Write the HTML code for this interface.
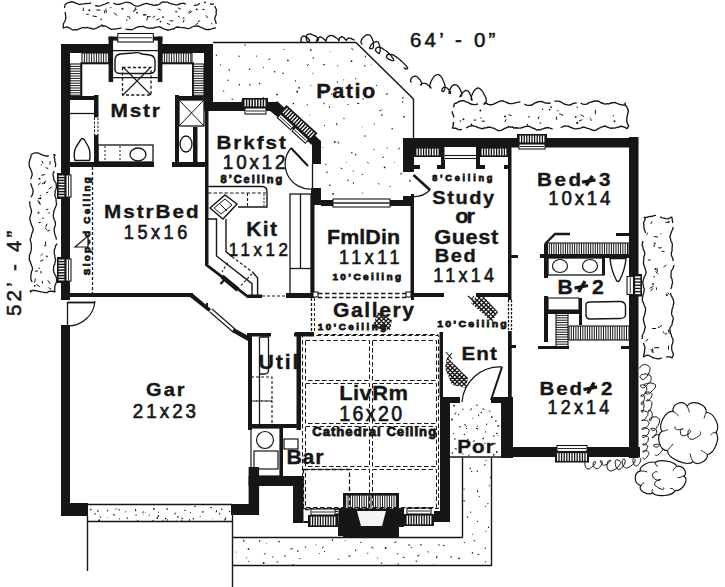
<!DOCTYPE html>
<html><head><meta charset="utf-8">
<style>
html,body{margin:0;padding:0;background:#fff;width:725px;height:587px;overflow:hidden}
svg{position:absolute;left:0;top:0;display:block}
.t{font-family:"Liberation Sans",sans-serif;font-weight:bold;fill:#161616;stroke:#161616;stroke-width:0.35}
.n{font-family:"Liberation Sans",sans-serif;font-weight:normal;fill:#161616;stroke:#161616;stroke-width:0.55}
.s{font-family:"Liberation Sans",sans-serif;font-weight:bold;fill:#161616;stroke:#161616;stroke-width:0.8}
.d{font-family:"Liberation Sans",sans-serif;font-weight:normal;fill:#161616;stroke:#161616;stroke-width:0.65}
</style></head><body>
<svg width="725" height="587" viewBox="0 0 725 587">
<path d="M65.0,4.6L67.0,3.2L69.0,2.4L71.0,2.0L73.1,1.9L75.1,2.8L77.1,3.7L79.1,4.5L81.1,4.2L83.1,4.2L85.1,3.5L87.1,3.6L89.2,3.3L91.2,3.1M95.2,5.5L97.2,6.0L99.2,6.2L101.2,5.5L103.3,4.6L105.3,4.0L107.3,2.8L109.3,2.6M113.3,3.1L115.3,4.0L117.3,4.3L119.4,4.4L121.4,3.6L123.4,3.0L125.4,2.3L127.4,2.3L129.4,2.6L131.4,3.4L133.5,5.0L135.5,5.9L137.5,6.1L139.5,5.8L141.5,4.8L143.5,4.1L145.5,3.6L147.5,3.4L149.6,4.3L151.6,4.6L153.6,5.4L155.6,5.0L157.6,5.0L159.6,4.1L161.6,2.4L163.7,1.9L165.7,2.2L167.7,2.2L169.7,3.4L171.7,3.8L173.7,4.3L175.7,4.9L177.7,4.8L179.8,3.9L181.8,3.3L183.8,3.3L185.8,4.2M189.8,5.1M193.9,5.7L195.9,5.1L197.9,4.8L199.9,3.3M203.9,2.4L205.9,2.5M210.0,3.6L212.0,4.3L214.0,3.8M214.7,6.0L215.6,8.0L216.5,10.0L216.1,12.0L216.3,14.0L215.6,16.0L214.8,18.0L215.0,20.0L215.9,22.0L216.1,24.0M216.0,27.9L214.0,28.1L212.0,28.9L210.0,29.5L207.9,29.5L205.9,29.6L203.9,28.7L201.9,27.9L199.9,26.8L197.9,25.8L195.9,26.1L193.9,26.4L191.8,27.0L189.8,28.3L187.8,28.7L185.8,28.1L183.8,27.7L181.8,27.6L179.8,27.4L177.7,27.0L175.7,27.5L173.7,29.0L171.7,29.2L169.7,29.8L167.7,30.0L165.7,29.5L163.7,28.8L161.6,27.9L159.6,26.6L157.6,27.1L155.6,27.1L153.6,28.1L151.6,28.0L149.6,28.2L147.5,28.0L145.5,27.4L143.5,26.3L141.5,26.5L139.5,26.6L137.5,27.0L135.5,27.8L133.5,29.0L131.4,29.8L129.4,29.4L127.4,29.5L125.4,28.9M121.4,27.8L119.4,28.3L117.3,28.7L115.3,29.1L113.3,29.2L111.3,29.3L109.3,28.4L107.3,27.0L105.3,26.0L103.3,25.8L101.2,25.9L99.2,26.6L97.2,27.8L95.2,28.7L93.2,29.1L91.2,28.3L89.2,28.0L87.1,27.3L85.1,27.8L83.1,27.5L81.1,28.2L79.1,28.8L77.1,29.9L75.1,29.7L73.1,30.2L71.0,29.0L69.0,27.8L67.0,26.8L63.2,28.0L63.3,26.0L63.3,24.0L64.4,22.0L65.4,20.0L65.9,18.0L65.6,16.0L65.5,14.0L65.0,12.0M64.5,8.0L64.8,6.0L65.0,4.6" stroke="#161616" stroke-width="1.3" fill="none" stroke-linejoin="round"/>
<line x1="184.15" y1="17.13" x2="182.93" y2="18.92" stroke="#161616" stroke-width="1.0"/>
<line x1="146.11" y1="14.45" x2="143.52" y2="15.08" stroke="#161616" stroke-width="1.0"/>
<line x1="136.61" y1="9.29" x2="133.05" y2="11.61" stroke="#161616" stroke-width="1.0"/>
<circle cx="137.1" cy="12.7" r="0.91" fill="#161616"/>
<line x1="202.16" y1="9.33" x2="204.64" y2="9.51" stroke="#161616" stroke-width="1.0"/>
<circle cx="101.0" cy="19.4" r="0.78" fill="#161616"/>
<line x1="157.87" y1="8.89" x2="160.9" y2="10.12" stroke="#161616" stroke-width="1.0"/>
<line x1="104.33" y1="10.56" x2="104.91" y2="13.44" stroke="#161616" stroke-width="1.0"/>
<circle cx="127.9" cy="16.5" r="0.70" fill="#161616"/>
<line x1="159.54" y1="18.49" x2="156.39" y2="20.08" stroke="#161616" stroke-width="1.0"/>
<line x1="192.23" y1="11.19" x2="188.71" y2="13.57" stroke="#161616" stroke-width="1.0"/>
<line x1="113.8" y1="12.67" x2="117.28" y2="15.52" stroke="#161616" stroke-width="1.0"/>
<circle cx="196.7" cy="9.4" r="0.96" fill="#161616"/>
<line x1="105.63" y1="8.75" x2="106.6" y2="12.6" stroke="#161616" stroke-width="1.0"/>
<line x1="86.27" y1="14.25" x2="88.77" y2="14.39" stroke="#161616" stroke-width="1.0"/>
<line x1="166.95" y1="23.4" x2="170" y2="24.56" stroke="#161616" stroke-width="1.0"/>
<line x1="177.93" y1="16.05" x2="179.74" y2="17.27" stroke="#161616" stroke-width="1.0"/>
<line x1="83.4" y1="7.67" x2="83.24" y2="11.09" stroke="#161616" stroke-width="1.0"/>
<circle cx="89.3" cy="10.3" r="1.02" fill="#161616"/>
<circle cx="211.6" cy="23.7" r="0.63" fill="#161616"/>
<line x1="205.97" y1="15.32" x2="207.61" y2="18.03" stroke="#161616" stroke-width="1.0"/>
<line x1="142.72" y1="14.74" x2="146.47" y2="14.9" stroke="#161616" stroke-width="1.0"/>
<line x1="190.42" y1="10.26" x2="188.36" y2="12.46" stroke="#161616" stroke-width="1.0"/>
<line x1="96.29" y1="9.97" x2="100.52" y2="10.18" stroke="#161616" stroke-width="1.0"/>
<line x1="184.25" y1="19.68" x2="183.06" y2="22.45" stroke="#161616" stroke-width="1.0"/>
<line x1="154.94" y1="16.08" x2="152.78" y2="17.6" stroke="#161616" stroke-width="1.0"/>
<line x1="200.14" y1="20.4" x2="197.62" y2="22.06" stroke="#161616" stroke-width="1.0"/>
<line x1="198" y1="22.84" x2="195.09" y2="25.45" stroke="#161616" stroke-width="1.0"/>
<circle cx="126.8" cy="20.0" r="0.77" fill="#161616"/>
<line x1="135.98" y1="7.19" x2="134.48" y2="10.42" stroke="#161616" stroke-width="1.0"/>
<line x1="101.66" y1="24" x2="103.44" y2="27.19" stroke="#161616" stroke-width="1.0"/>
<line x1="150.59" y1="16.6" x2="146.98" y2="16.6" stroke="#161616" stroke-width="1.0"/>
<line x1="169.68" y1="20.71" x2="173.21" y2="20.96" stroke="#161616" stroke-width="1.0"/>
<line x1="175.13" y1="11.62" x2="177.58" y2="12.01" stroke="#161616" stroke-width="1.0"/>
<circle cx="122.5" cy="8.8" r="1.05" fill="#161616"/>
<line x1="147.76" y1="16.14" x2="146.81" y2="20.53" stroke="#161616" stroke-width="1.0"/>
<circle cx="160.5" cy="21.6" r="0.90" fill="#161616"/>
<line x1="178.09" y1="7.81" x2="180.88" y2="9.34" stroke="#161616" stroke-width="1.0"/>
<line x1="92.52" y1="15.92" x2="96.81" y2="16.72" stroke="#161616" stroke-width="1.0"/>
<line x1="129" y1="16.48" x2="130.11" y2="18.96" stroke="#161616" stroke-width="1.0"/>
<circle cx="163.0" cy="17.1" r="0.96" fill="#161616"/>
<circle cx="110.9" cy="7.3" r="0.62" fill="#161616"/>
<path d="M31.0,154.8L33.0,153.5L35.0,152.8L37.0,152.9L39.0,153.2L41.0,154.4L43.0,155.2L45.0,155.8L47.0,156.0L49.0,155.8M53.0,154.7L55.1,155.0L54.1,157.0L54.8,159.0L54.7,161.0L55.5,163.1L55.7,165.1L55.1,167.1M54.4,171.1L53.1,173.1L53.1,175.1L53.6,177.2L53.6,179.2L54.6,181.2L56.1,183.2L56.3,185.2L56.5,187.2L55.9,189.2L55.1,191.3L55.1,193.3L54.7,195.3L55.6,197.3L56.1,199.3L56.1,201.3L56.6,203.4L56.2,205.4L55.3,207.4L54.5,209.4L53.7,211.4L53.6,213.4L53.2,215.4L53.5,217.5L54.2,219.5L55.1,221.5L55.5,223.5L55.3,225.5L54.5,227.5L54.1,229.5L54.4,231.6L54.6,233.6L55.3,235.6L56.0,237.6L56.5,239.6M57.1,243.6L55.7,245.7L55.2,247.7L54.4,249.7L54.3,251.7L54.3,253.7L54.8,255.7L54.9,257.8L55.7,259.8L55.1,261.8L54.9,263.8L53.7,265.8L53.7,267.8L53.4,269.8L53.8,271.9L54.4,273.9L55.8,275.9L56.3,277.9L56.8,279.9L56.5,281.9L55.8,283.9L54.8,286.0L54.8,288.0L54.5,290.0L55.0,291.8L53.0,291.5L51.0,291.2L49.0,291.4L47.0,292.6L45.0,292.7L43.0,292.1L41.0,291.9L39.0,291.3L37.0,290.8L35.0,290.5L33.0,290.3L30.3,292.0L30.9,290.0M32.8,286.0M32.1,281.9L31.1,279.9L30.9,277.9L30.8,275.9L31.2,273.9L31.4,271.9L32.4,269.8L32.5,267.8L31.6,265.8L30.9,263.8L30.4,261.8L29.2,259.8L29.4,257.8L29.3,255.7L30.1,253.7L30.9,251.7L31.2,249.7L31.5,247.7L31.3,245.7L31.2,243.6L30.7,241.6L30.1,239.6L31.0,237.6L31.3,235.6L31.9,233.6L32.7,231.6L33.3,229.5L32.6,227.5L31.8,225.5L31.1,223.5L30.4,221.5L29.9,219.5L29.8,217.5L30.5,215.4L31.2,213.4L31.5,211.4L31.2,209.4L30.5,207.4L29.9,205.4L29.8,203.4L29.6,201.3M31.0,197.3L32.1,195.3L32.8,193.3L33.1,191.3L32.9,189.2L31.9,187.2L31.4,185.2L30.6,183.2M30.8,179.2L31.3,177.2L32.2,175.1L32.0,173.1L31.4,171.1L30.7,169.1L29.5,167.1L29.2,165.1L29.2,163.1L29.4,161.0L30.1,159.0L31.0,157.0L31.0,154.8" stroke="#161616" stroke-width="1.3" fill="none" stroke-linejoin="round"/>
<line x1="47.77" y1="280.28" x2="50.33" y2="283.75" stroke="#161616" stroke-width="1.0"/>
<circle cx="44.8" cy="245.7" r="0.71" fill="#161616"/>
<line x1="42.68" y1="253.76" x2="40.62" y2="255.73" stroke="#161616" stroke-width="1.0"/>
<line x1="40.87" y1="270.97" x2="40.99" y2="273.45" stroke="#161616" stroke-width="1.0"/>
<line x1="45.24" y1="228.21" x2="47.46" y2="230.17" stroke="#161616" stroke-width="1.0"/>
<line x1="45.02" y1="174.62" x2="41.2" y2="175.19" stroke="#161616" stroke-width="1.0"/>
<circle cx="38.5" cy="212.8" r="0.97" fill="#161616"/>
<line x1="45.37" y1="180.64" x2="44.35" y2="183.93" stroke="#161616" stroke-width="1.0"/>
<line x1="40.81" y1="198.59" x2="37.99" y2="198.61" stroke="#161616" stroke-width="1.0"/>
<circle cx="43.0" cy="218.2" r="0.80" fill="#161616"/>
<line x1="37.69" y1="200.23" x2="39.66" y2="204.1" stroke="#161616" stroke-width="1.0"/>
<line x1="39.34" y1="201.54" x2="40.39" y2="204.66" stroke="#161616" stroke-width="1.0"/>
<line x1="45.66" y1="167.65" x2="48.15" y2="168.47" stroke="#161616" stroke-width="1.0"/>
<line x1="48.58" y1="287.63" x2="51.23" y2="289.22" stroke="#161616" stroke-width="1.0"/>
<circle cx="39.1" cy="268.2" r="0.70" fill="#161616"/>
<line x1="45.49" y1="241.47" x2="45.78" y2="245.86" stroke="#161616" stroke-width="1.0"/>
<line x1="42.25" y1="280.75" x2="42.57" y2="283.63" stroke="#161616" stroke-width="1.0"/>
<circle cx="46.9" cy="256.4" r="0.86" fill="#161616"/>
<line x1="47.08" y1="223.7" x2="45.73" y2="227.24" stroke="#161616" stroke-width="1.0"/>
<circle cx="40.4" cy="198.2" r="1.05" fill="#161616"/>
<line x1="48.22" y1="209.13" x2="45.95" y2="209.84" stroke="#161616" stroke-width="1.0"/>
<circle cx="49.1" cy="213.1" r="0.73" fill="#161616"/>
<circle cx="41.4" cy="164.8" r="0.66" fill="#161616"/>
<circle cx="39.5" cy="178.8" r="1.02" fill="#161616"/>
<line x1="40.83" y1="222.23" x2="38.52" y2="222.72" stroke="#161616" stroke-width="1.0"/>
<line x1="38.11" y1="270.71" x2="34.86" y2="271.41" stroke="#161616" stroke-width="1.0"/>
<line x1="40.61" y1="182.71" x2="38.11" y2="184.98" stroke="#161616" stroke-width="1.0"/>
<line x1="48.25" y1="192.15" x2="46.07" y2="192.81" stroke="#161616" stroke-width="1.0"/>
<line x1="45.11" y1="182.28" x2="41.95" y2="184.03" stroke="#161616" stroke-width="1.0"/>
<line x1="41.85" y1="160.82" x2="43.13" y2="163.53" stroke="#161616" stroke-width="1.0"/>
<line x1="35.4" y1="278.56" x2="34.61" y2="282.59" stroke="#161616" stroke-width="1.0"/>
<line x1="50.13" y1="230.01" x2="47.53" y2="231.36" stroke="#161616" stroke-width="1.0"/>
<line x1="50.21" y1="161.19" x2="49.9" y2="164.73" stroke="#161616" stroke-width="1.0"/>
<line x1="51.83" y1="186.8" x2="48.7" y2="189.08" stroke="#161616" stroke-width="1.0"/>
<line x1="43.44" y1="259.79" x2="40.11" y2="261.24" stroke="#161616" stroke-width="1.0"/>
<circle cx="40.5" cy="195.6" r="0.66" fill="#161616"/>
<circle cx="34.8" cy="285.8" r="0.90" fill="#161616"/>
<line x1="36.41" y1="284.57" x2="39.87" y2="286.72" stroke="#161616" stroke-width="1.0"/>
<path d="M454.0,103.6L456.0,103.3L458.0,102.0L460.0,101.2L462.0,100.7L464.1,100.8L466.1,101.8L468.1,102.4L470.1,103.8L472.1,104.3L474.1,104.6L476.1,104.4L478.1,104.0M484.2,102.7L486.2,103.2L488.2,104.4L490.2,104.7L492.2,104.6L494.2,103.9L496.2,102.8L498.3,101.9L500.3,101.1L502.3,100.6L504.3,101.6L506.3,102.2L508.3,103.3L510.3,103.6L512.3,103.6L514.3,103.1L516.4,102.6L518.4,102.1L520.4,102.0M524.4,104.1L526.4,105.1L528.4,105.4L530.4,105.2L532.5,104.7L534.5,103.1L536.5,102.5L538.5,101.7L540.5,101.4L542.5,101.8L544.5,102.7L546.5,103.0L548.5,103.2L550.6,103.0M554.6,101.2L556.6,101.1L558.6,101.1L560.6,101.9L562.6,103.0L564.6,104.2L566.7,104.6L568.7,105.1L570.7,104.8L572.7,103.6L574.7,103.1L576.7,103.0M580.7,103.0L582.7,104.1L584.8,104.4L586.8,104.1L588.8,102.9L590.8,102.1L592.8,101.5L594.8,101.0L596.8,101.0L598.8,101.3L600.8,102.8L602.9,103.3L604.9,104.1L606.9,103.6L608.9,103.9L610.9,103.0L612.9,102.7L614.9,102.4L616.9,103.3L619.0,104.1L621.0,104.9L623.0,105.0L625.0,105.1L625.1,103.0L625.4,105.1L626.9,107.2L627.8,109.2L628.4,111.3L627.8,113.4L627.4,115.5L626.8,117.6L626.9,119.7L626.8,121.8L627.6,123.8L628.7,125.9L627.0,128.6L625.0,127.4L623.0,126.7L621.0,126.2L619.0,127.0L616.9,127.4L614.9,128.1L612.9,128.0L610.9,128.4L608.9,127.6L606.9,126.8L604.9,126.0L602.9,126.6L600.8,127.3L598.8,128.3L596.8,129.6L594.8,130.5L592.8,130.2L590.8,129.3L588.8,128.6L586.8,128.1L584.8,127.3L582.7,127.2L580.7,128.1L578.7,128.4L576.7,128.9L574.7,128.9L572.7,128.2L570.7,127.4L568.7,126.3L566.7,126.1L564.6,125.9L562.6,126.9L560.6,127.4M556.6,129.6M552.6,129.1L550.6,128.3L548.5,127.7L546.5,127.8L544.5,128.3L542.5,128.9L540.5,129.9L538.5,129.6L536.5,130.0L534.5,128.6L532.5,128.0L530.4,126.9L528.4,126.2L526.4,126.4L524.4,126.9L522.4,127.5L520.4,128.1L518.4,128.1L516.4,127.8L514.3,128.0L512.3,127.0L510.3,127.1L508.3,126.8L506.3,127.9L504.3,128.5L502.3,129.8L500.3,130.6L498.3,130.6L496.2,129.7L494.2,128.2L492.2,127.9L490.2,127.1L488.2,127.3L486.2,127.8L484.2,128.0L482.2,128.8L480.2,128.2L478.1,127.6L476.1,126.6L474.1,126.1L472.1,125.5L470.1,126.2L468.1,126.9L466.1,128.0M462.0,129.3L460.0,129.9L458.0,129.3L456.0,128.3L452.5,128.0L453.2,125.9L453.2,123.8L453.7,121.8M453.7,117.6L453.6,115.5L452.4,113.4L452.3,111.3M453.3,107.2L454.2,105.1L454.0,103.6" stroke="#161616" stroke-width="1.4" fill="none" stroke-linejoin="round"/>
<circle cx="474.9" cy="120.1" r="0.91" fill="#161616"/>
<circle cx="614.5" cy="121.2" r="0.98" fill="#161616"/>
<line x1="539.13" y1="116.48" x2="538.06" y2="119.22" stroke="#161616" stroke-width="1.0"/>
<circle cx="460.4" cy="121.0" r="0.81" fill="#161616"/>
<circle cx="505.0" cy="116.6" r="1.02" fill="#161616"/>
<line x1="556.22" y1="116.61" x2="556.84" y2="119.89" stroke="#161616" stroke-width="1.0"/>
<line x1="582.3" y1="119.73" x2="579.11" y2="120.87" stroke="#161616" stroke-width="1.0"/>
<circle cx="549.7" cy="109.6" r="0.82" fill="#161616"/>
<circle cx="540.3" cy="123.1" r="0.77" fill="#161616"/>
<line x1="580.6" y1="114.72" x2="584.05" y2="116.61" stroke="#161616" stroke-width="1.0"/>
<circle cx="529.0" cy="116.8" r="0.80" fill="#161616"/>
<circle cx="591.1" cy="120.0" r="0.81" fill="#161616"/>
<circle cx="463.5" cy="119.3" r="0.96" fill="#161616"/>
<line x1="559.2" y1="113.64" x2="563.22" y2="115.41" stroke="#161616" stroke-width="1.0"/>
<circle cx="471.4" cy="124.4" r="0.82" fill="#161616"/>
<circle cx="613.3" cy="115.7" r="0.63" fill="#161616"/>
<circle cx="590.2" cy="118.1" r="0.66" fill="#161616"/>
<line x1="527.15" y1="123.77" x2="527.38" y2="125.85" stroke="#161616" stroke-width="1.0"/>
<line x1="595.43" y1="109.84" x2="595.44" y2="114.25" stroke="#161616" stroke-width="1.0"/>
<line x1="481.66" y1="121.08" x2="485.07" y2="121.26" stroke="#161616" stroke-width="1.0"/>
<line x1="506.24" y1="119.21" x2="504.62" y2="122.02" stroke="#161616" stroke-width="1.0"/>
<circle cx="557.8" cy="110.7" r="0.66" fill="#161616"/>
<circle cx="577.3" cy="107.2" r="0.69" fill="#161616"/>
<circle cx="551.1" cy="107.1" r="0.91" fill="#161616"/>
<circle cx="577.2" cy="122.9" r="1.10" fill="#161616"/>
<circle cx="480.8" cy="117.9" r="0.69" fill="#161616"/>
<circle cx="480.4" cy="110.6" r="0.99" fill="#161616"/>
<circle cx="575.7" cy="116.9" r="0.96" fill="#161616"/>
<circle cx="542.6" cy="109.2" r="0.72" fill="#161616"/>
<line x1="508.57" y1="114.57" x2="511.51" y2="115.6" stroke="#161616" stroke-width="1.0"/>
<path d="M644.0,217.0L646.0,217.6L648.0,216.9L650.0,216.5L652.0,216.3L654.0,215.7L656.0,215.4M660.0,216.7L662.0,217.9L664.0,218.2L666.0,218.6L668.0,218.9L670.0,217.9L671.7,217.0L672.2,219.0L672.4,221.0L672.8,223.0M673.0,227.0L672.9,229.0L671.8,231.0L671.1,233.0L670.4,235.0L669.8,237.0L670.6,239.0L670.9,241.0L672.1,243.0L672.4,245.0L672.2,247.0L672.0,249.0L672.0,251.0L671.3,253.0L671.3,255.0L672.1,257.0L673.0,259.0L673.1,261.0M674.1,265.0L673.4,267.0L672.7,269.0L671.3,271.0L671.0,273.0L671.2,275.0L670.9,277.0L672.0,279.0L672.3,281.0L672.6,283.0L671.8,285.0L671.7,287.0L670.8,289.0M670.5,293.0L671.0,295.0L672.0,297.0L673.0,299.0L673.6,301.0L673.8,303.0L673.3,305.0L673.0,307.0L672.1,309.0L671.9,311.0L671.5,313.0L671.8,315.0L673.0,317.0L673.3,319.0L672.7,321.0L672.3,323.0L671.9,325.0L670.5,327.0L669.8,329.0L670.1,331.0L670.6,333.0L671.3,335.0L671.8,337.0L672.9,339.0L673.0,341.0L672.8,343.0L671.9,345.0L671.7,347.0L671.8,349.0L672.0,351.0L673.0,353.0L673.5,355.0L672.0,357.9L670.0,356.9L668.0,356.9L666.0,356.9M662.0,357.9L660.0,358.5L658.0,358.9L656.0,358.3L654.0,358.1L652.0,357.2L650.0,356.0L648.0,355.2L646.0,355.5L643.7,357.0L643.7,355.0L644.3,353.0L644.6,351.0L644.8,349.0L645.0,347.0L644.1,345.0L643.4,343.0M642.2,339.0L642.3,337.0L642.4,335.0L643.7,333.0L644.3,331.0L644.7,329.0L645.4,327.0L644.7,325.0L644.1,323.0L643.6,321.0L643.4,319.0L643.7,317.0L644.7,315.0L644.9,313.0L645.5,311.0L645.6,309.0L645.1,307.0L644.1,305.0L643.5,303.0L642.4,301.0L642.3,299.0L642.6,297.0L643.0,295.0L643.7,293.0L644.0,291.0L644.4,289.0L643.5,287.0L643.4,285.0L642.7,283.0L643.1,281.0L643.6,279.0L644.2,277.0L645.5,275.0L645.9,273.0L646.0,271.0L645.2,269.0L644.7,267.0L643.8,265.0L643.4,263.0L643.6,261.0L643.9,259.0L643.7,257.0L644.6,255.0L644.8,253.0L644.2,251.0L643.1,249.0L643.0,247.0L642.1,245.0L642.5,243.0L643.0,241.0M644.8,237.0M645.6,233.0L644.9,231.0L644.3,229.0L643.9,227.0L643.9,225.0L643.5,223.0L644.4,221.0L645.2,219.0L644.0,217.0" stroke="#161616" stroke-width="1.3" fill="none" stroke-linejoin="round"/>
<line x1="650.92" y1="349.13" x2="652.85" y2="352.71" stroke="#161616" stroke-width="1.0"/>
<line x1="659.28" y1="347.62" x2="656.93" y2="348.03" stroke="#161616" stroke-width="1.0"/>
<line x1="667.75" y1="292.58" x2="669.28" y2="294.69" stroke="#161616" stroke-width="1.0"/>
<line x1="653.53" y1="242.78" x2="655.95" y2="243.73" stroke="#161616" stroke-width="1.0"/>
<circle cx="660.9" cy="247.4" r="0.73" fill="#161616"/>
<line x1="652.15" y1="221.37" x2="650.82" y2="223.81" stroke="#161616" stroke-width="1.0"/>
<circle cx="666.8" cy="295.0" r="1.08" fill="#161616"/>
<line x1="652.05" y1="328.48" x2="656.17" y2="328.52" stroke="#161616" stroke-width="1.0"/>
<line x1="656.25" y1="287.3" x2="656.65" y2="289.87" stroke="#161616" stroke-width="1.0"/>
<line x1="648.09" y1="338.65" x2="645.87" y2="341.49" stroke="#161616" stroke-width="1.0"/>
<line x1="668.56" y1="345.45" x2="668.5" y2="349.73" stroke="#161616" stroke-width="1.0"/>
<line x1="653.74" y1="236.64" x2="658.16" y2="237.04" stroke="#161616" stroke-width="1.0"/>
<circle cx="654.1" cy="276.8" r="0.76" fill="#161616"/>
<circle cx="658.8" cy="327.3" r="0.77" fill="#161616"/>
<line x1="652.42" y1="348.44" x2="653.18" y2="352.72" stroke="#161616" stroke-width="1.0"/>
<line x1="655.51" y1="271.52" x2="658.28" y2="274.07" stroke="#161616" stroke-width="1.0"/>
<line x1="653.31" y1="288.26" x2="650.45" y2="290.84" stroke="#161616" stroke-width="1.0"/>
<line x1="657.59" y1="347.28" x2="653.87" y2="348.01" stroke="#161616" stroke-width="1.0"/>
<line x1="657" y1="268.23" x2="657.32" y2="272.08" stroke="#161616" stroke-width="1.0"/>
<circle cx="655.5" cy="269.0" r="0.97" fill="#161616"/>
<line x1="653.38" y1="286.2" x2="649.61" y2="288.4" stroke="#161616" stroke-width="1.0"/>
<line x1="661.6" y1="251.21" x2="664.58" y2="251.72" stroke="#161616" stroke-width="1.0"/>
<line x1="667.35" y1="333.28" x2="665.11" y2="334.26" stroke="#161616" stroke-width="1.0"/>
<line x1="647.87" y1="259.77" x2="650.66" y2="260.12" stroke="#161616" stroke-width="1.0"/>
<line x1="658.18" y1="247.59" x2="660.27" y2="248.32" stroke="#161616" stroke-width="1.0"/>
<circle cx="668.9" cy="221.6" r="0.80" fill="#161616"/>
<line x1="666.37" y1="264.98" x2="663.47" y2="267.02" stroke="#161616" stroke-width="1.0"/>
<line x1="665.28" y1="222.19" x2="669.4" y2="222.46" stroke="#161616" stroke-width="1.0"/>
<line x1="647.56" y1="232.68" x2="646.8" y2="234.57" stroke="#161616" stroke-width="1.0"/>
<circle cx="661.1" cy="233.8" r="0.62" fill="#161616"/>
<line x1="662.99" y1="331.39" x2="664.38" y2="333.61" stroke="#161616" stroke-width="1.0"/>
<line x1="668.17" y1="329.43" x2="669.28" y2="333.48" stroke="#161616" stroke-width="1.0"/>
<line x1="661.9" y1="325.29" x2="659.38" y2="327.33" stroke="#161616" stroke-width="1.0"/>
<circle cx="653.0" cy="284.0" r="0.94" fill="#161616"/>
<line x1="654.37" y1="244.2" x2="654.14" y2="246.98" stroke="#161616" stroke-width="1.0"/>
<line x1="213" y1="42.5" x2="356" y2="42.5" stroke="#161616" stroke-width="1.4"/>
<line x1="356" y1="42.5" x2="413.5" y2="99" stroke="#161616" stroke-width="1.5"/>
<line x1="413.5" y1="99" x2="413.5" y2="139" stroke="#161616" stroke-width="1.4"/>
<line x1="216.3" y1="54.61" x2="216.39" y2="56.06" stroke="#161616" stroke-width="1.0"/>
<circle cx="239.0" cy="56.2" r="0.70" fill="#161616"/>
<circle cx="245.1" cy="45.0" r="0.74" fill="#161616"/>
<circle cx="256.7" cy="56.1" r="0.57" fill="#161616"/>
<line x1="270.29" y1="58.89" x2="268.5" y2="59.63" stroke="#161616" stroke-width="1.0"/>
<circle cx="284.1" cy="49.6" r="0.51" fill="#161616"/>
<circle cx="310.8" cy="50.1" r="0.86" fill="#161616"/>
<circle cx="313.2" cy="57.9" r="0.73" fill="#161616"/>
<circle cx="330.2" cy="51.7" r="0.47" fill="#161616"/>
<line x1="351.39" y1="48.27" x2="353.26" y2="49.71" stroke="#161616" stroke-width="1.0"/>
<line x1="365.7" y1="55.51" x2="365.18" y2="57.52" stroke="#161616" stroke-width="1.0"/>
<line x1="220.28" y1="64.3" x2="220.71" y2="65.45" stroke="#161616" stroke-width="1.0"/>
<line x1="229.22" y1="68.93" x2="229.25" y2="70.72" stroke="#161616" stroke-width="1.0"/>
<circle cx="249.5" cy="69.3" r="0.75" fill="#161616"/>
<circle cx="263.5" cy="67.6" r="0.54" fill="#161616"/>
<circle cx="274.6" cy="71.8" r="0.75" fill="#161616"/>
<circle cx="287.9" cy="60.4" r="0.86" fill="#161616"/>
<line x1="308.37" y1="64.15" x2="307.18" y2="66.09" stroke="#161616" stroke-width="1.0"/>
<line x1="324.82" y1="64.59" x2="322.93" y2="64.82" stroke="#161616" stroke-width="1.0"/>
<circle cx="337.7" cy="65.8" r="0.57" fill="#161616"/>
<circle cx="351.5" cy="61.2" r="0.85" fill="#161616"/>
<line x1="364.03" y1="65.65" x2="365.52" y2="65.9" stroke="#161616" stroke-width="1.0"/>
<circle cx="371.2" cy="64.8" r="0.48" fill="#161616"/>
<line x1="227.35" y1="80.17" x2="228.8" y2="80.3" stroke="#161616" stroke-width="1.0"/>
<line x1="239.6" y1="83.92" x2="239.06" y2="85.55" stroke="#161616" stroke-width="1.0"/>
<circle cx="249.9" cy="84.7" r="0.72" fill="#161616"/>
<circle cx="259.6" cy="83.5" r="0.79" fill="#161616"/>
<circle cx="283.0" cy="73.2" r="0.77" fill="#161616"/>
<circle cx="295.5" cy="81.0" r="0.65" fill="#161616"/>
<circle cx="310.9" cy="85.5" r="0.50" fill="#161616"/>
<circle cx="312.8" cy="73.2" r="0.52" fill="#161616"/>
<circle cx="337.5" cy="82.0" r="0.72" fill="#161616"/>
<circle cx="343.8" cy="79.7" r="0.53" fill="#161616"/>
<line x1="355.82" y1="78.11" x2="355.62" y2="79.35" stroke="#161616" stroke-width="1.0"/>
<line x1="377.08" y1="85.02" x2="376.12" y2="85.76" stroke="#161616" stroke-width="1.0"/>
<circle cx="223.7" cy="91.1" r="0.64" fill="#161616"/>
<circle cx="232.2" cy="99.3" r="0.70" fill="#161616"/>
<circle cx="249.5" cy="100.0" r="0.75" fill="#161616"/>
<line x1="262.85" y1="97.01" x2="264" y2="98.69" stroke="#161616" stroke-width="1.0"/>
<circle cx="277.0" cy="94.6" r="0.86" fill="#161616"/>
<circle cx="297.2" cy="91.7" r="0.95" fill="#161616"/>
<circle cx="299.1" cy="87.8" r="0.86" fill="#161616"/>
<line x1="322.06" y1="93.02" x2="324.03" y2="93.14" stroke="#161616" stroke-width="1.0"/>
<circle cx="331.6" cy="94.0" r="0.65" fill="#161616"/>
<circle cx="342.5" cy="87.5" r="0.57" fill="#161616"/>
<line x1="363.06" y1="98.16" x2="363.27" y2="99.63" stroke="#161616" stroke-width="1.0"/>
<line x1="372.55" y1="93.56" x2="371.25" y2="93.71" stroke="#161616" stroke-width="1.0"/>
<line x1="387.79" y1="93.63" x2="385.78" y2="94.35" stroke="#161616" stroke-width="1.0"/>
<line x1="403.76" y1="97.34" x2="401.92" y2="98.21" stroke="#161616" stroke-width="1.0"/>
<line x1="226.77" y1="106.08" x2="224.76" y2="107.31" stroke="#161616" stroke-width="1.0"/>
<circle cx="241.7" cy="100.8" r="0.61" fill="#161616"/>
<circle cx="247.3" cy="102.7" r="0.49" fill="#161616"/>
<circle cx="280.0" cy="107.1" r="0.93" fill="#161616"/>
<circle cx="293.4" cy="103.6" r="0.77" fill="#161616"/>
<line x1="307.05" y1="104.33" x2="307.84" y2="105.61" stroke="#161616" stroke-width="1.0"/>
<line x1="323.25" y1="102.84" x2="324.8" y2="103.96" stroke="#161616" stroke-width="1.0"/>
<line x1="329.27" y1="105.98" x2="329.45" y2="107.69" stroke="#161616" stroke-width="1.0"/>
<circle cx="347.9" cy="104.6" r="0.64" fill="#161616"/>
<line x1="357.05" y1="103.33" x2="359.21" y2="103.56" stroke="#161616" stroke-width="1.0"/>
<circle cx="380.2" cy="110.5" r="0.70" fill="#161616"/>
<line x1="381.65" y1="109.17" x2="382.53" y2="110" stroke="#161616" stroke-width="1.0"/>
<circle cx="402.6" cy="102.0" r="0.68" fill="#161616"/>
<circle cx="309.9" cy="114.9" r="0.49" fill="#161616"/>
<line x1="324.01" y1="125.03" x2="325.06" y2="125.74" stroke="#161616" stroke-width="1.0"/>
<line x1="336.76" y1="123.07" x2="336.95" y2="125.22" stroke="#161616" stroke-width="1.0"/>
<circle cx="344.0" cy="118.4" r="0.60" fill="#161616"/>
<circle cx="362.0" cy="127.0" r="0.48" fill="#161616"/>
<circle cx="374.3" cy="124.1" r="0.58" fill="#161616"/>
<circle cx="381.9" cy="115.1" r="0.79" fill="#161616"/>
<circle cx="404.1" cy="116.8" r="0.92" fill="#161616"/>
<line x1="365.83" y1="135.98" x2="364.17" y2="136.14" stroke="#161616" stroke-width="1.0"/>
<circle cx="392.2" cy="128.7" r="0.76" fill="#161616"/>
<circle cx="322.8" cy="147.5" r="0.46" fill="#161616"/>
<circle cx="334.8" cy="141.9" r="0.95" fill="#161616"/>
<line x1="337.8" y1="141.61" x2="338.86" y2="143.61" stroke="#161616" stroke-width="1.0"/>
<circle cx="351.8" cy="152.8" r="0.75" fill="#161616"/>
<line x1="374.46" y1="149.14" x2="373.7" y2="150.14" stroke="#161616" stroke-width="1.0"/>
<circle cx="387.1" cy="147.9" r="0.55" fill="#161616"/>
<line x1="400.05" y1="147.78" x2="398.26" y2="149.31" stroke="#161616" stroke-width="1.0"/>
<line x1="409.61" y1="149.32" x2="411.22" y2="151.02" stroke="#161616" stroke-width="1.0"/>
<line x1="326.17" y1="163.76" x2="325.54" y2="164.98" stroke="#161616" stroke-width="1.0"/>
<circle cx="346.4" cy="162.2" r="0.47" fill="#161616"/>
<line x1="355.78" y1="153.77" x2="355.74" y2="155.59" stroke="#161616" stroke-width="1.0"/>
<line x1="367.49" y1="162.16" x2="368.43" y2="163.52" stroke="#161616" stroke-width="1.0"/>
<circle cx="383.1" cy="157.3" r="0.72" fill="#161616"/>
<circle cx="394.5" cy="162.3" r="0.49" fill="#161616"/>
<line x1="327.76" y1="172.06" x2="325.97" y2="172.33" stroke="#161616" stroke-width="1.0"/>
<line x1="340.69" y1="167.97" x2="342.28" y2="168.92" stroke="#161616" stroke-width="1.0"/>
<circle cx="353.3" cy="171.1" r="0.55" fill="#161616"/>
<line x1="362.52" y1="173.83" x2="361.88" y2="175.12" stroke="#161616" stroke-width="1.0"/>
<circle cx="384.6" cy="167.4" r="0.86" fill="#161616"/>
<line x1="401" y1="172.83" x2="401" y2="174.66" stroke="#161616" stroke-width="1.0"/>
<line x1="409.85" y1="179.91" x2="410.02" y2="181.97" stroke="#161616" stroke-width="1.0"/>
<line x1="330.58" y1="184.74" x2="328.95" y2="185.78" stroke="#161616" stroke-width="1.0"/>
<circle cx="347.9" cy="180.3" r="0.77" fill="#161616"/>
<line x1="353.23" y1="182.31" x2="353.54" y2="183.8" stroke="#161616" stroke-width="1.0"/>
<circle cx="362.6" cy="192.9" r="0.51" fill="#161616"/>
<line x1="378.25" y1="183.43" x2="379.54" y2="184.25" stroke="#161616" stroke-width="1.0"/>
<circle cx="390.0" cy="186.3" r="0.62" fill="#161616"/>
<circle cx="333.1" cy="193.9" r="0.87" fill="#161616"/>
<path d="M302.1,41.9 L301.5,41.8 L301.1,41.6 L300.8,40.3 L301.2,39.3 L301.2,38.1 L301.9,37.2 L302.7,36.2 L303.9,36.0 L305.3,36.4 L306.3,36.8 L307.6,37.9 L308.2,38.7 L309.3,39.6 L309.4,40.3 L309.7,40.7 L309.5,41.2 L308.9,41.5 L308.6,41.7 L308.9,41.9 L307.6,41.4 L306.9,40.6 L306.4,39.0 L306.0,37.7 L306.6,36.0 L307.2,34.6 L308.8,34.1 L310.5,33.9 L312.1,34.7 L314.0,35.5 L315.7,36.1 L316.9,37.3 L317.8,37.9 L318.4,38.9 L318.5,39.7 L317.9,40.6 L317.1,41.1 L316.2,41.5 L316.3,41.6 L316.5,41.2 L316.7,41.2 L316.8,40.1 L317.3,39.4 L317.7,38.4 L318.3,37.9 L319.1,37.3 L320.0,36.9 L321.2,37.1 L321.8,37.6 L322.9,38.3 L323.8,38.9 L324.4,39.6 L324.9,40.1 L325.4,40.3 L325.6,40.9 L326.1,41.2 L326.3,41.1 L326.0,41.0 L326.0,40.9 L326.1,40.5 L326.1,39.8 L326.7,38.8 L327.0,37.6 L328.3,36.4 L329.2,35.9 L330.7,35.5 L332.4,35.6 L333.6,36.1 L335.1,37.1 L336.4,38.0 L337.3,38.5 L338.2,39.2 L338.6,40.0 L338.7,40.1 L338.6,40.5 L338.6,40.6 L338.6,40.8 L338.9,40.4 L339.1,40.0 L339.2,39.6 L339.5,38.6 L339.7,37.9 L340.3,37.2 L341.0,37.0 L341.8,36.7 L342.6,36.8 L343.1,37.4 L343.9,37.7 L344.5,38.5 L345.0,39.0 L345.4,39.5 L346.0,39.6 L346.3,40.1 L346.2,40.1 L346.5,40.5 L346.4,40.3 L346.5,40.1 L346.3,40.2 L346.7,39.7 L346.9,39.4 L347.5,39.0 L348.0,38.5 L348.4,38.1 L349.5,38.0 L350.2,38.4 L350.9,38.4 L351.7,38.9 L352.5,39.2 L352.8,39.4 L353.4,39.5 L353.9,39.8 L354.1,39.9 L354.1,39.9 L354.0,40.1" stroke="#161616" stroke-width="1.35" fill="none" stroke-linejoin="round" stroke-linecap="round"/>
<path d="M362.1,44.0 L361.4,43.4 L360.9,41.8 L361.4,40.1 L362.1,38.5 L364.1,36.7 L366.0,35.2 L367.7,34.6 L369.9,35.2 L371.1,36.6 L372.2,38.7 L373.1,41.2 L373.5,43.9 L373.5,45.8 L373.4,47.2 L372.7,48.3 L371.9,48.5 L370.7,48.6 L369.7,48.6 L369.7,48.5 L369.5,47.9 L370.1,46.9 L370.7,45.7 L371.9,44.0 L373.4,42.9 L375.2,41.8 L376.6,41.5 L378.0,41.9 L378.8,43.1 L379.3,44.8 L379.9,46.6 L380.2,48.5 L380.2,50.2 L380.2,51.2 L379.8,52.1 L379.3,53.2 L379.1,53.7 L378.8,53.5 L378.7,53.4 L377.1,52.2 L376.0,51.2 L375.4,49.7 L376.0,48.4 L377.3,47.5 L379.1,47.2 L381.5,47.8 L383.8,49.5 L386.7,51.3 L389.1,53.5 L390.9,55.7 L392.8,58.0 L393.5,59.2 L393.7,60.4 L393.0,60.7 L391.9,60.6 L390.2,59.9 L388.7,59.2 L388.6,59.4 L387.3,58.1 L386.4,57.3 L386.7,55.7 L387.1,54.9 L388.7,54.1 L391.0,54.4 L393.3,55.0 L396.1,56.9 L398.8,58.7 L401.8,61.4 L404.0,63.6 L406.0,65.6 L407.1,67.0 L407.7,68.0 L407.4,68.7 L406.6,69.0 L405.4,68.8 L404.1,67.9" stroke="#161616" stroke-width="1.3" fill="none" stroke-linejoin="round" stroke-linecap="round"/>
<path d="M411.2,82.0 L410.6,81.8 L410.6,80.8 L410.7,79.7 L411.2,78.5 L412.4,77.2 L413.7,76.5 L414.9,76.1 L416.1,76.3 L417.9,77.3 L418.8,78.8 L420.1,79.8 L420.8,81.1 L421.4,82.1 L421.8,83.2 L421.8,83.8 L421.4,84.3 L421.3,85.0 L420.7,84.8 L420.6,84.8 L420.5,84.9 L420.7,84.6 L421.0,84.2 L421.7,83.7 L422.1,83.4 L423.2,83.3 L424.1,83.3 L425.2,83.4 L426.4,83.8 L427.6,84.7 L428.3,85.3 L429.3,85.8 L429.7,86.6 L430.5,87.1 L430.6,87.5 L430.7,87.9 L431.0,87.9 L430.5,87.9 L430.8,88.0 L429.9,87.4 L429.8,86.1 L430.2,83.7 L431.1,81.2 L432.7,78.4 L434.5,76.0 L436.7,74.7 L438.8,74.6 L440.4,75.9 L442.2,78.2 L443.3,80.9 L444.5,83.6 L445.0,86.4 L445.0,88.5 L444.7,89.6 L444.1,90.7 L443.3,91.5 L442.0,91.2 L442.0,91.3 L442.0,91.2 L441.9,90.7 L442.0,89.8 L442.2,88.5 L443.2,87.9 L443.9,87.1 L445.0,87.1 L446.1,87.5 L447.1,88.0 L448.1,89.0 L449.0,90.1 L449.8,91.1 L450.4,91.7 L450.7,92.3 L450.5,92.8 L450.4,93.3 L450.0,93.5 L449.8,93.5 L449.6,93.5 L449.1,93.4 L449.0,92.0 L449.6,90.7 L450.4,88.6 L451.5,86.6 L452.8,85.4 L454.5,84.6 L456.1,84.8 L457.5,85.8 L458.8,87.3 L460.2,89.4 L461.0,91.3 L461.5,93.2 L461.6,94.3 L461.6,95.7 L461.2,96.2 L460.5,96.5 L460.0,96.6 L459.9,96.6 L460.0,96.7 L460.2,95.8 L461.0,95.1 L462.1,93.6 L462.9,92.3 L464.5,91.2 L465.7,90.4 L467.0,90.6 L468.3,91.2 L469.1,92.4 L469.9,94.1 L470.5,95.6 L471.3,96.9 L471.4,98.1 L471.9,98.9 L472.0,99.9 L472.0,100.3 L471.8,100.3 L472.1,100.3 L471.2,99.5 L471.1,98.2 L471.5,96.0 L472.7,93.3 L474.2,90.6 L476.0,88.8 L477.8,87.9 L479.9,88.7 L481.4,90.1 L483.0,92.2 L484.4,94.9 L485.5,97.0 L486.1,98.9 L486.3,100.5 L486.0,102.1 L485.7,103.2 L484.7,104.1 L483.8,104.0" stroke="#161616" stroke-width="1.3" fill="none" stroke-linejoin="round" stroke-linecap="round"/>
<rect x="61" y="44" width="50" height="9" fill="#161616"/>
<rect x="160" y="44" width="53" height="9" fill="#161616"/>
<rect x="108.6" y="36.6" width="4.5" height="45.5" fill="#161616"/>
<rect x="157.8" y="36.6" width="4.6" height="45.5" fill="#161616"/>
<rect x="108.6" y="36.6" width="9.5" height="4" fill="#161616"/>
<rect x="153" y="36.6" width="9.4" height="4" fill="#161616"/>
<rect x="117.8" y="33.5" width="35.5" height="8.5" fill="#fff"/>
<rect x="117.8" y="33.5" width="35.5" height="8.5" fill="none" stroke="#161616" stroke-width="1.1"/>
<line x1="118.8" y1="37.75" x2="152.3" y2="37.75" stroke="#161616" stroke-width="0.9"/>
<line x1="113" y1="50.7" x2="157.8" y2="50.7" stroke="#161616" stroke-width="1.2"/>
<line x1="113" y1="77.6" x2="157.8" y2="77.6" stroke="#161616" stroke-width="1.2"/>
<path d="M115,60 Q115,55 120,54 L133,53 Q138,52 142,54 L150,55 Q155,56 155,61 L155,70 Q154,73.5 150,73.5 L120,73.5 Q115,73 115,70 Z" stroke="#161616" stroke-width="1.4" fill="none" />
<rect x="122.5" y="67.5" width="28.5" height="27.5" fill="none" stroke="#161616" stroke-width="1.3" stroke-dasharray="3,2.2"/>
<line x1="124" y1="68" x2="151" y2="95" stroke="#161616" stroke-width="1.1"/>
<line x1="150" y1="68" x2="123" y2="95" stroke="#161616" stroke-width="1.1"/>
<rect x="82" y="53" width="28" height="10" fill="none" stroke="#161616" stroke-width="1.1"/>
<line x1="84.4" y1="53" x2="84.4" y2="63" stroke="#161616" stroke-width="1.0"/>
<line x1="86.8" y1="53" x2="86.8" y2="63" stroke="#161616" stroke-width="1.0"/>
<line x1="89.2" y1="53" x2="89.2" y2="63" stroke="#161616" stroke-width="1.0"/>
<line x1="91.6" y1="53" x2="91.6" y2="63" stroke="#161616" stroke-width="1.0"/>
<line x1="94" y1="53" x2="94" y2="63" stroke="#161616" stroke-width="1.0"/>
<line x1="96.4" y1="53" x2="96.4" y2="63" stroke="#161616" stroke-width="1.0"/>
<line x1="98.8" y1="53" x2="98.8" y2="63" stroke="#161616" stroke-width="1.0"/>
<line x1="101.2" y1="53" x2="101.2" y2="63" stroke="#161616" stroke-width="1.0"/>
<line x1="103.6" y1="53" x2="103.6" y2="63" stroke="#161616" stroke-width="1.0"/>
<line x1="106" y1="53" x2="106" y2="63" stroke="#161616" stroke-width="1.0"/>
<line x1="108.4" y1="53" x2="108.4" y2="63" stroke="#161616" stroke-width="1.0"/>
<rect x="70" y="64" width="11" height="32" fill="none" stroke="#161616" stroke-width="1.1"/>
<line x1="70" y1="66.4" x2="81" y2="66.4" stroke="#161616" stroke-width="1.0"/>
<line x1="70" y1="68.8" x2="81" y2="68.8" stroke="#161616" stroke-width="1.0"/>
<line x1="70" y1="71.2" x2="81" y2="71.2" stroke="#161616" stroke-width="1.0"/>
<line x1="70" y1="73.6" x2="81" y2="73.6" stroke="#161616" stroke-width="1.0"/>
<line x1="70" y1="76" x2="81" y2="76" stroke="#161616" stroke-width="1.0"/>
<line x1="70" y1="78.4" x2="81" y2="78.4" stroke="#161616" stroke-width="1.0"/>
<line x1="70" y1="80.8" x2="81" y2="80.8" stroke="#161616" stroke-width="1.0"/>
<line x1="70" y1="83.2" x2="81" y2="83.2" stroke="#161616" stroke-width="1.0"/>
<line x1="70" y1="85.6" x2="81" y2="85.6" stroke="#161616" stroke-width="1.0"/>
<line x1="70" y1="88" x2="81" y2="88" stroke="#161616" stroke-width="1.0"/>
<line x1="70" y1="90.4" x2="81" y2="90.4" stroke="#161616" stroke-width="1.0"/>
<line x1="70" y1="92.8" x2="81" y2="92.8" stroke="#161616" stroke-width="1.0"/>
<line x1="70" y1="95.2" x2="81" y2="95.2" stroke="#161616" stroke-width="1.0"/>
<rect x="80.5" y="62.5" width="30" height="1.8" fill="#161616"/>
<rect x="80.5" y="62.5" width="1.8" height="36" fill="#161616"/>
<rect x="70" y="96" width="28" height="4" fill="#161616"/>
<rect x="162" y="53" width="30" height="10" fill="none" stroke="#161616" stroke-width="1.1"/>
<line x1="164.4" y1="53" x2="164.4" y2="63" stroke="#161616" stroke-width="1.0"/>
<line x1="166.8" y1="53" x2="166.8" y2="63" stroke="#161616" stroke-width="1.0"/>
<line x1="169.2" y1="53" x2="169.2" y2="63" stroke="#161616" stroke-width="1.0"/>
<line x1="171.6" y1="53" x2="171.6" y2="63" stroke="#161616" stroke-width="1.0"/>
<line x1="174" y1="53" x2="174" y2="63" stroke="#161616" stroke-width="1.0"/>
<line x1="176.4" y1="53" x2="176.4" y2="63" stroke="#161616" stroke-width="1.0"/>
<line x1="178.8" y1="53" x2="178.8" y2="63" stroke="#161616" stroke-width="1.0"/>
<line x1="181.2" y1="53" x2="181.2" y2="63" stroke="#161616" stroke-width="1.0"/>
<line x1="183.6" y1="53" x2="183.6" y2="63" stroke="#161616" stroke-width="1.0"/>
<line x1="186" y1="53" x2="186" y2="63" stroke="#161616" stroke-width="1.0"/>
<line x1="188.4" y1="53" x2="188.4" y2="63" stroke="#161616" stroke-width="1.0"/>
<line x1="190.8" y1="53" x2="190.8" y2="63" stroke="#161616" stroke-width="1.0"/>
<rect x="193" y="64" width="11" height="32" fill="none" stroke="#161616" stroke-width="1.1"/>
<line x1="193" y1="66.4" x2="204" y2="66.4" stroke="#161616" stroke-width="1.0"/>
<line x1="193" y1="68.8" x2="204" y2="68.8" stroke="#161616" stroke-width="1.0"/>
<line x1="193" y1="71.2" x2="204" y2="71.2" stroke="#161616" stroke-width="1.0"/>
<line x1="193" y1="73.6" x2="204" y2="73.6" stroke="#161616" stroke-width="1.0"/>
<line x1="193" y1="76" x2="204" y2="76" stroke="#161616" stroke-width="1.0"/>
<line x1="193" y1="78.4" x2="204" y2="78.4" stroke="#161616" stroke-width="1.0"/>
<line x1="193" y1="80.8" x2="204" y2="80.8" stroke="#161616" stroke-width="1.0"/>
<line x1="193" y1="83.2" x2="204" y2="83.2" stroke="#161616" stroke-width="1.0"/>
<line x1="193" y1="85.6" x2="204" y2="85.6" stroke="#161616" stroke-width="1.0"/>
<line x1="193" y1="88" x2="204" y2="88" stroke="#161616" stroke-width="1.0"/>
<line x1="193" y1="90.4" x2="204" y2="90.4" stroke="#161616" stroke-width="1.0"/>
<line x1="193" y1="92.8" x2="204" y2="92.8" stroke="#161616" stroke-width="1.0"/>
<line x1="193" y1="95.2" x2="204" y2="95.2" stroke="#161616" stroke-width="1.0"/>
<rect x="161" y="62.5" width="33" height="1.8" fill="#161616"/>
<rect x="192" y="62.5" width="1.8" height="36" fill="#161616"/>
<rect x="176" y="96" width="28" height="4" fill="#161616"/>
<rect x="61" y="44" width="9" height="256" fill="#161616"/>
<rect x="61" y="325" width="9" height="191" fill="#161616"/>
<rect x="61" y="503" width="27" height="13" fill="#161616"/>
<rect x="57" y="173" width="9" height="26" fill="#161616"/>
<rect x="58.6" y="175.55" width="5.8" height="1.3" fill="#fff"/>
<rect x="58.6" y="178.35" width="5.8" height="1.3" fill="#fff"/>
<rect x="58.6" y="181.15" width="5.8" height="1.3" fill="#fff"/>
<rect x="58.6" y="183.95" width="5.8" height="1.3" fill="#fff"/>
<rect x="58.6" y="186.75" width="5.8" height="1.3" fill="#fff"/>
<rect x="58.6" y="189.55" width="5.8" height="1.3" fill="#fff"/>
<rect x="58.6" y="192.35" width="5.8" height="1.3" fill="#fff"/>
<rect x="58.6" y="195.15" width="5.8" height="1.3" fill="#fff"/>
<rect x="66" y="175" width="5" height="22" fill="#fff"/>
<rect x="66" y="175" width="5" height="22" fill="none" stroke="#161616" stroke-width="1.1"/>
<line x1="68.5" y1="176" x2="68.5" y2="196" stroke="#161616" stroke-width="0.9"/>
<rect x="57" y="257" width="9" height="26" fill="#161616"/>
<rect x="58.6" y="259.55" width="5.8" height="1.3" fill="#fff"/>
<rect x="58.6" y="262.35" width="5.8" height="1.3" fill="#fff"/>
<rect x="58.6" y="265.15" width="5.8" height="1.3" fill="#fff"/>
<rect x="58.6" y="267.95" width="5.8" height="1.3" fill="#fff"/>
<rect x="58.6" y="270.75" width="5.8" height="1.3" fill="#fff"/>
<rect x="58.6" y="273.55" width="5.8" height="1.3" fill="#fff"/>
<rect x="58.6" y="276.35" width="5.8" height="1.3" fill="#fff"/>
<rect x="58.6" y="279.15" width="5.8" height="1.3" fill="#fff"/>
<rect x="66" y="259" width="5" height="22" fill="#fff"/>
<rect x="66" y="259" width="5" height="22" fill="none" stroke="#161616" stroke-width="1.1"/>
<line x1="68.5" y1="260" x2="68.5" y2="280" stroke="#161616" stroke-width="0.9"/>
<rect x="70" y="293" width="123" height="4" fill="#161616"/>
<line x1="67" y1="302.5" x2="95" y2="302.5" stroke="#161616" stroke-width="1.8"/>
<path d="M95,301 A27,27 0 0 1 68,326" stroke="#161616" stroke-width="1.2" fill="none" />
<line x1="67.5" y1="302" x2="67.5" y2="326" stroke="#161616" stroke-width="1.3"/>
<rect x="94" y="95" width="4.5" height="22" fill="#161616"/>
<rect x="94" y="135" width="4.5" height="32" fill="#161616"/>
<rect x="94" y="117" width="4.5" height="18" fill="#fff"/>
<rect x="94.5" y="117" width="3.5" height="18" fill="none" stroke="#161616" stroke-width="1.0" stroke-dasharray="2.5,1.5"/>
<rect x="70" y="162" width="84" height="5" fill="#161616"/>
<rect x="172" y="162" width="33" height="5" fill="#161616"/>
<rect x="175" y="95" width="4" height="69" fill="#161616"/>
<rect x="193" y="127" width="4.5" height="35" fill="#161616"/>
<path d="M75,160.5 Q73,153 76,147 L80.5,140 Q82.5,137 84.5,140 L88.5,147 Q91,153 89.5,160.5 Z" stroke="#161616" stroke-width="1.4" fill="none" />
<line x1="70" y1="113.5" x2="94" y2="113.5" stroke="#161616" stroke-width="1.3"/>
<rect x="98" y="145" width="55" height="17" fill="none" stroke="#161616" stroke-width="1.3"/>
<line x1="105" y1="146" x2="105" y2="161" stroke="#161616" stroke-width="1" stroke-dasharray="2,2"/>
<line x1="120" y1="146" x2="120" y2="161" stroke="#161616" stroke-width="1" stroke-dasharray="2,2"/>
<ellipse cx="138" cy="154.5" rx="8" ry="6.5" fill="none" stroke="#161616" stroke-width="1.3"/>
<rect x="179" y="100" width="25" height="26" fill="none" stroke="#161616" stroke-width="1.3"/>
<line x1="179" y1="100" x2="204" y2="126" stroke="#161616" stroke-width="1"/>
<line x1="204" y1="100" x2="179" y2="126" stroke="#161616" stroke-width="1"/>
<ellipse cx="186" cy="144" rx="6" ry="8" fill="none" stroke="#161616" stroke-width="1.3"/>
<rect x="204" y="44" width="9" height="67" fill="#161616"/>
<line x1="92.5" y1="167" x2="92.5" y2="294" stroke="#161616" stroke-width="1.3" stroke-dasharray="3,2"/>
<text x="89.5" y="225" class="s" font-size="9.8" letter-spacing="2.3" text-anchor="middle" transform="rotate(-90 89.5 225)">Sloped Ceiling</text>
<path d="M75,247 L88,236 L88,247 Z" stroke="#161616" stroke-width="1.2" fill="#fff" />
<polygon points="192,293 211,309 209,312 190,297" fill="#161616"/>
<rect x="206" y="303" width="2" height="6" fill="#161616"/>
<line x1="212" y1="309" x2="235" y2="329" stroke="#161616" stroke-width="1.1"/>
<line x1="210" y1="312" x2="233" y2="332" stroke="#161616" stroke-width="1.1"/>
<polygon points="234,328 250,337 248,341 232,332" fill="#161616"/>
<rect x="204" y="102" width="74" height="9" fill="#161616"/>
<polygon points="277,101 321,141 321,164 312,164 312,145 270,111" fill="#161616"/>
<rect x="242" y="98" width="26" height="10" fill="#161616"/>
<rect x="244.55" y="99.6" width="1.3" height="6.8" fill="#fff"/>
<rect x="247.35" y="99.6" width="1.3" height="6.8" fill="#fff"/>
<rect x="250.15" y="99.6" width="1.3" height="6.8" fill="#fff"/>
<rect x="252.95" y="99.6" width="1.3" height="6.8" fill="#fff"/>
<rect x="255.75" y="99.6" width="1.3" height="6.8" fill="#fff"/>
<rect x="258.55" y="99.6" width="1.3" height="6.8" fill="#fff"/>
<rect x="261.35" y="99.6" width="1.3" height="6.8" fill="#fff"/>
<rect x="264.15" y="99.6" width="1.3" height="6.8" fill="#fff"/>
<rect x="245" y="108" width="21" height="6" fill="#fff"/>
<rect x="245" y="108" width="21" height="6" fill="none" stroke="#161616" stroke-width="1.1"/>
<line x1="246" y1="111" x2="265" y2="111" stroke="#161616" stroke-width="0.9"/>
<g transform="translate(299,122.5) rotate(42.5)">
<rect x="-21" y="-4.5" width="42" height="10" fill="#161616"/>
<rect x="-18.85" y="-2.9" width="1.3" height="6.8" fill="#fff"/>
<rect x="-16.05" y="-2.9" width="1.3" height="6.8" fill="#fff"/>
<rect x="-13.25" y="-2.9" width="1.3" height="6.8" fill="#fff"/>
<rect x="-10.45" y="-2.9" width="1.3" height="6.8" fill="#fff"/>
<rect x="-7.65" y="-2.9" width="1.3" height="6.8" fill="#fff"/>
<rect x="-4.85" y="-2.9" width="1.3" height="6.8" fill="#fff"/>
<rect x="-2.05" y="-2.9" width="1.3" height="6.8" fill="#fff"/>
<rect x="0.75" y="-2.9" width="1.3" height="6.8" fill="#fff"/>
<rect x="3.55" y="-2.9" width="1.3" height="6.8" fill="#fff"/>
<rect x="6.35" y="-2.9" width="1.3" height="6.8" fill="#fff"/>
<rect x="9.15" y="-2.9" width="1.3" height="6.8" fill="#fff"/>
<rect x="11.95" y="-2.9" width="1.3" height="6.8" fill="#fff"/>
<rect x="14.75" y="-2.9" width="1.3" height="6.8" fill="#fff"/>
<rect x="17.55" y="-2.9" width="1.3" height="6.8" fill="#fff"/>
</g>
<g transform="translate(294,127.5) rotate(42.5)">
<rect x="-19" y="-1" width="18" height="5" fill="#fff"/>
<rect x="-19" y="-1" width="18" height="5" fill="none" stroke="#161616" stroke-width="1.1"/>
<line x1="-18" y1="1.5" x2="-2" y2="1.5" stroke="#161616" stroke-width="0.9"/>
<rect x="1" y="-1" width="18" height="5" fill="#fff"/>
<rect x="1" y="-1" width="18" height="5" fill="none" stroke="#161616" stroke-width="1.1"/>
<line x1="2" y1="1.5" x2="18" y2="1.5" stroke="#161616" stroke-width="0.9"/>
</g>
<line x1="312.5" y1="164" x2="312.5" y2="189" stroke="#161616" stroke-width="1.3"/>
<path d="M291,148 A25,25 0 0 0 312,189" stroke="#161616" stroke-width="1.2" fill="none" />
<line x1="291" y1="148" x2="308" y2="166" stroke="#161616" stroke-width="2"/>
<rect x="311" y="188" width="10" height="17" fill="#161616"/>
<rect x="205" y="111" width="3.5" height="153" fill="#161616"/>
<polygon points="205,262 248,295 248,298.5 205,265.5" fill="#161616"/>
<rect x="248" y="294.5" width="14" height="3.5" fill="#161616"/>
<line x1="262" y1="296" x2="286" y2="296" stroke="#161616" stroke-width="1.1" stroke-dasharray="3,2"/>
<rect x="286" y="294.5" width="26" height="3.5" fill="#161616"/>
<rect x="311" y="200" width="3.5" height="98" fill="#161616"/>
<path d="M207,186.5 L262,186.5 Q267,186.5 267,192 L267,207 L238,207" stroke="#161616" stroke-width="1.4" fill="none" />
<line x1="208" y1="193" x2="266" y2="193" stroke="#161616" stroke-width="1.1" stroke-dasharray="3.5,2"/>
<line x1="247.5" y1="193" x2="247.5" y2="207" stroke="#161616" stroke-width="1.1" stroke-dasharray="3,2"/>
<line x1="264" y1="194" x2="264" y2="206" stroke="#161616" stroke-width="1.0" stroke-dasharray="2,1.5"/>
<polygon points="210,208 225,195 237,204 223,219" fill="#fff" stroke="#161616" stroke-width="1.4"/>
<polygon points="214,208 225,199 232,205 221,214" fill="none" stroke="#161616" stroke-width="1.0"/>
<line x1="219" y1="203" x2="227" y2="211" stroke="#161616" stroke-width="1"/>
<path d="M208,219 L216.5,219 L216.5,256 L252,283.7 L252,295" stroke="#161616" stroke-width="1.4" fill="none" />
<path d="M226,219 L226,251.6 L232,256.6" stroke="#161616" stroke-width="1.4" fill="none" />
<line x1="232" y1="256.6" x2="253" y2="272.5" stroke="#161616" stroke-width="1.2" stroke-dasharray="3,2"/>
<path d="M253,272.5 L257.6,278 L257.6,295" stroke="#161616" stroke-width="1.4" fill="none" />
<line x1="227.7" y1="262.7" x2="222" y2="272" stroke="#161616" stroke-width="1.1" stroke-dasharray="2.5,2"/>
<line x1="252" y1="273.8" x2="240" y2="286.5" stroke="#161616" stroke-width="1.1" stroke-dasharray="2.5,2"/>
<line x1="222" y1="276.5" x2="238" y2="289.8" stroke="#161616" stroke-width="4.5"/>
<line x1="220.5" y1="284" x2="226" y2="278" stroke="#161616" stroke-width="2.2"/>
<rect x="290" y="194" width="21" height="102" fill="none" stroke="#161616" stroke-width="1.3"/>
<line x1="300.5" y1="194" x2="300.5" y2="269" stroke="#161616" stroke-width="1.3"/>
<line x1="290" y1="268.5" x2="311" y2="268.5" stroke="#161616" stroke-width="1.3"/>
<rect x="321" y="200" width="90" height="6" fill="#161616"/>
<rect x="333" y="199" width="57" height="8" fill="#fff"/>
<rect x="333" y="199" width="57" height="8" fill="none" stroke="#161616" stroke-width="1.1"/>
<line x1="334" y1="203" x2="389" y2="203" stroke="#161616" stroke-width="0.9"/>
<line x1="333" y1="203" x2="390" y2="203" stroke="#161616" stroke-width="0.9"/>
<rect x="403" y="196" width="11" height="10" fill="#161616"/>
<rect x="410.5" y="196" width="3" height="100" fill="#161616"/>
<line x1="318" y1="293.5" x2="406" y2="293.5" stroke="#161616" stroke-width="1.3" stroke-dasharray="4.5,2.5"/>
<line x1="318" y1="297.5" x2="406" y2="297.5" stroke="#161616" stroke-width="1.3" stroke-dasharray="4.5,2.5"/>
<rect x="313" y="292" width="5" height="5" fill="#fff" stroke="#161616" stroke-width="1.1"/>
<rect x="406" y="292" width="5" height="5" fill="#fff" stroke="#161616" stroke-width="1.1"/>
<rect x="413" y="293" width="17" height="4" fill="#161616"/>
<rect x="286" y="293" width="25" height="4" fill="#161616"/>
<rect x="403" y="138" width="11" height="34" fill="#161616"/>
<rect x="403" y="138" width="235" height="9.5" fill="#161616"/>
<rect x="414" y="147" width="27" height="10" fill="#161616"/>
<rect x="416.45" y="148.6" width="1.3" height="6.8" fill="#fff"/>
<rect x="419.05" y="148.6" width="1.3" height="6.8" fill="#fff"/>
<rect x="421.65" y="148.6" width="1.3" height="6.8" fill="#fff"/>
<rect x="424.25" y="148.6" width="1.3" height="6.8" fill="#fff"/>
<rect x="426.85" y="148.6" width="1.3" height="6.8" fill="#fff"/>
<rect x="429.45" y="148.6" width="1.3" height="6.8" fill="#fff"/>
<rect x="432.05" y="148.6" width="1.3" height="6.8" fill="#fff"/>
<rect x="434.65" y="148.6" width="1.3" height="6.8" fill="#fff"/>
<rect x="437.25" y="148.6" width="1.3" height="6.8" fill="#fff"/>
<rect x="480" y="147" width="28" height="10" fill="#161616"/>
<rect x="481.65" y="148.6" width="1.3" height="6.8" fill="#fff"/>
<rect x="484.25" y="148.6" width="1.3" height="6.8" fill="#fff"/>
<rect x="486.85" y="148.6" width="1.3" height="6.8" fill="#fff"/>
<rect x="489.45" y="148.6" width="1.3" height="6.8" fill="#fff"/>
<rect x="492.05" y="148.6" width="1.3" height="6.8" fill="#fff"/>
<rect x="494.65" y="148.6" width="1.3" height="6.8" fill="#fff"/>
<rect x="497.25" y="148.6" width="1.3" height="6.8" fill="#fff"/>
<rect x="499.85" y="148.6" width="1.3" height="6.8" fill="#fff"/>
<rect x="502.45" y="148.6" width="1.3" height="6.8" fill="#fff"/>
<rect x="505.05" y="148.6" width="1.3" height="6.8" fill="#fff"/>
<rect x="441" y="147" width="4" height="22" fill="#161616"/>
<rect x="437" y="165" width="8" height="4" fill="#161616"/>
<rect x="476" y="147" width="4" height="22" fill="#161616"/>
<rect x="476" y="165" width="9" height="4" fill="#161616"/>
<rect x="504" y="165" width="7" height="4" fill="#161616"/>
<rect x="414" y="165" width="6" height="4" fill="#161616"/>
<rect x="444.5" y="147" width="31.5" height="13" fill="#fff"/>
<line x1="444.5" y1="155.5" x2="476" y2="155.5" stroke="#161616" stroke-width="1.1"/>
<line x1="444.5" y1="158.5" x2="476" y2="158.5" stroke="#161616" stroke-width="1.1"/>
<path d="M430,190 A22,22 0 0 1 413,196.5" stroke="#161616" stroke-width="1.3" fill="none" />
<line x1="413.5" y1="175" x2="430" y2="190" stroke="#161616" stroke-width="2.6"/>
<rect x="411" y="194" width="3" height="106" fill="#161616"/>
<rect x="411" y="293" width="33" height="4" fill="#161616"/>
<rect x="476" y="293" width="35" height="4" fill="#161616"/>
<rect x="517" y="134" width="30" height="10" fill="#161616"/>
<rect x="519.65" y="135.6" width="1.3" height="6.8" fill="#fff"/>
<rect x="522.25" y="135.6" width="1.3" height="6.8" fill="#fff"/>
<rect x="524.85" y="135.6" width="1.3" height="6.8" fill="#fff"/>
<rect x="527.45" y="135.6" width="1.3" height="6.8" fill="#fff"/>
<rect x="530.05" y="135.6" width="1.3" height="6.8" fill="#fff"/>
<rect x="532.65" y="135.6" width="1.3" height="6.8" fill="#fff"/>
<rect x="535.25" y="135.6" width="1.3" height="6.8" fill="#fff"/>
<rect x="537.85" y="135.6" width="1.3" height="6.8" fill="#fff"/>
<rect x="540.45" y="135.6" width="1.3" height="6.8" fill="#fff"/>
<rect x="543.05" y="135.6" width="1.3" height="6.8" fill="#fff"/>
<rect x="519" y="144" width="26" height="5" fill="#fff"/>
<rect x="519" y="144" width="26" height="5" fill="none" stroke="#161616" stroke-width="1.1"/>
<line x1="520" y1="146.5" x2="544" y2="146.5" stroke="#161616" stroke-width="0.9"/>
<rect x="508" y="147" width="3.5" height="153" fill="#161616"/>
<line x1="508.5" y1="300" x2="508.5" y2="330" stroke="#161616" stroke-width="1.3" stroke-dasharray="2.5,1.5"/>
<line x1="511.5" y1="300" x2="511.5" y2="330" stroke="#161616" stroke-width="1.3" stroke-dasharray="2.5,1.5"/>
<rect x="508" y="331" width="3.5" height="120" fill="#161616"/>
<rect x="511" y="255" width="7" height="3" fill="#161616"/>
<rect x="511" y="345" width="5" height="3" fill="#161616"/>
<rect x="629" y="137" width="9.5" height="321" fill="#161616"/>
<rect x="633.5" y="274" width="8.5" height="22.5" fill="#161616"/>
<rect x="635.1" y="276.35" width="5.3" height="1.8" fill="#fff"/>
<rect x="635.1" y="279.55" width="5.3" height="1.8" fill="#fff"/>
<rect x="635.1" y="282.75" width="5.3" height="1.8" fill="#fff"/>
<rect x="635.1" y="285.95" width="5.3" height="1.8" fill="#fff"/>
<rect x="635.1" y="289.15" width="5.3" height="1.8" fill="#fff"/>
<rect x="635.1" y="292.35" width="5.3" height="1.8" fill="#fff"/>
<rect x="627" y="276.5" width="6.5" height="18" fill="#fff"/>
<rect x="627" y="276.5" width="6.5" height="18" fill="none" stroke="#161616" stroke-width="1.1"/>
<line x1="630.25" y1="277.5" x2="630.25" y2="293.5" stroke="#161616" stroke-width="0.9"/>
<path d="M545,244 L555,234 L570,234" stroke="#161616" stroke-width="2.4" fill="none" />
<rect x="616" y="233" width="13" height="3" fill="#161616"/>
<rect x="547" y="243" width="82" height="12" fill="none" stroke="#161616" stroke-width="1.1"/>
<line x1="549.3" y1="243" x2="549.3" y2="255" stroke="#161616" stroke-width="1.0"/>
<line x1="551.6" y1="243" x2="551.6" y2="255" stroke="#161616" stroke-width="1.0"/>
<line x1="553.9" y1="243" x2="553.9" y2="255" stroke="#161616" stroke-width="1.0"/>
<line x1="556.2" y1="243" x2="556.2" y2="255" stroke="#161616" stroke-width="1.0"/>
<line x1="558.5" y1="243" x2="558.5" y2="255" stroke="#161616" stroke-width="1.0"/>
<line x1="560.8" y1="243" x2="560.8" y2="255" stroke="#161616" stroke-width="1.0"/>
<line x1="563.1" y1="243" x2="563.1" y2="255" stroke="#161616" stroke-width="1.0"/>
<line x1="565.4" y1="243" x2="565.4" y2="255" stroke="#161616" stroke-width="1.0"/>
<line x1="567.7" y1="243" x2="567.7" y2="255" stroke="#161616" stroke-width="1.0"/>
<line x1="570" y1="243" x2="570" y2="255" stroke="#161616" stroke-width="1.0"/>
<line x1="572.3" y1="243" x2="572.3" y2="255" stroke="#161616" stroke-width="1.0"/>
<line x1="574.6" y1="243" x2="574.6" y2="255" stroke="#161616" stroke-width="1.0"/>
<line x1="576.9" y1="243" x2="576.9" y2="255" stroke="#161616" stroke-width="1.0"/>
<line x1="579.2" y1="243" x2="579.2" y2="255" stroke="#161616" stroke-width="1.0"/>
<line x1="581.5" y1="243" x2="581.5" y2="255" stroke="#161616" stroke-width="1.0"/>
<line x1="583.8" y1="243" x2="583.8" y2="255" stroke="#161616" stroke-width="1.0"/>
<line x1="586.1" y1="243" x2="586.1" y2="255" stroke="#161616" stroke-width="1.0"/>
<line x1="588.4" y1="243" x2="588.4" y2="255" stroke="#161616" stroke-width="1.0"/>
<line x1="590.7" y1="243" x2="590.7" y2="255" stroke="#161616" stroke-width="1.0"/>
<line x1="593" y1="243" x2="593" y2="255" stroke="#161616" stroke-width="1.0"/>
<line x1="595.3" y1="243" x2="595.3" y2="255" stroke="#161616" stroke-width="1.0"/>
<line x1="597.6" y1="243" x2="597.6" y2="255" stroke="#161616" stroke-width="1.0"/>
<line x1="599.9" y1="243" x2="599.9" y2="255" stroke="#161616" stroke-width="1.0"/>
<line x1="602.2" y1="243" x2="602.2" y2="255" stroke="#161616" stroke-width="1.0"/>
<line x1="604.5" y1="243" x2="604.5" y2="255" stroke="#161616" stroke-width="1.0"/>
<line x1="606.8" y1="243" x2="606.8" y2="255" stroke="#161616" stroke-width="1.0"/>
<line x1="609.1" y1="243" x2="609.1" y2="255" stroke="#161616" stroke-width="1.0"/>
<line x1="611.4" y1="243" x2="611.4" y2="255" stroke="#161616" stroke-width="1.0"/>
<line x1="613.7" y1="243" x2="613.7" y2="255" stroke="#161616" stroke-width="1.0"/>
<line x1="616" y1="243" x2="616" y2="255" stroke="#161616" stroke-width="1.0"/>
<line x1="618.3" y1="243" x2="618.3" y2="255" stroke="#161616" stroke-width="1.0"/>
<line x1="620.6" y1="243" x2="620.6" y2="255" stroke="#161616" stroke-width="1.0"/>
<line x1="622.9" y1="243" x2="622.9" y2="255" stroke="#161616" stroke-width="1.0"/>
<line x1="625.2" y1="243" x2="625.2" y2="255" stroke="#161616" stroke-width="1.0"/>
<line x1="627.5" y1="243" x2="627.5" y2="255" stroke="#161616" stroke-width="1.0"/>
<rect x="540" y="254" width="89" height="4" fill="#161616"/>
<rect x="544" y="244" width="4" height="34" fill="#161616"/>
<rect x="548" y="258" width="56" height="17" fill="none" stroke="#161616" stroke-width="1.3"/>
<rect x="602" y="258" width="3" height="17" fill="#161616"/>
<ellipse cx="560" cy="266" rx="7.5" ry="6.5" fill="none" stroke="#161616" stroke-width="1.2"/>
<ellipse cx="590" cy="266" rx="7.5" ry="6.5" fill="none" stroke="#161616" stroke-width="1.2"/>
<path d="M610,258.5 L626,258.5 Q625,270 619.5,280.5 Q618,282.5 616.5,280.5 Q611,270 610,258.5 Z" stroke="#161616" stroke-width="1.4" fill="none" />
<rect x="544" y="296" width="4" height="46" fill="#161616"/>
<rect x="544" y="310" width="38" height="4" fill="#161616"/>
<rect x="579" y="298" width="3" height="27" fill="#161616"/>
<rect x="548" y="298" width="31" height="12" fill="none" stroke="#161616" stroke-width="1.1"/>
<path d="M586,305 Q586,302 590,302 L620,301.5 Q625,301.5 625.5,306 L625.5,315 Q625,318.5 620,318.5 L590,319 Q586,319 586,315 Z" stroke="#161616" stroke-width="1.4" fill="none" />
<rect x="556" y="313" width="12" height="34" fill="none" stroke="#161616" stroke-width="1.1"/>
<line x1="556" y1="315.4" x2="568" y2="315.4" stroke="#161616" stroke-width="1.0"/>
<line x1="556" y1="317.8" x2="568" y2="317.8" stroke="#161616" stroke-width="1.0"/>
<line x1="556" y1="320.2" x2="568" y2="320.2" stroke="#161616" stroke-width="1.0"/>
<line x1="556" y1="322.6" x2="568" y2="322.6" stroke="#161616" stroke-width="1.0"/>
<line x1="556" y1="325" x2="568" y2="325" stroke="#161616" stroke-width="1.0"/>
<line x1="556" y1="327.4" x2="568" y2="327.4" stroke="#161616" stroke-width="1.0"/>
<line x1="556" y1="329.8" x2="568" y2="329.8" stroke="#161616" stroke-width="1.0"/>
<line x1="556" y1="332.2" x2="568" y2="332.2" stroke="#161616" stroke-width="1.0"/>
<line x1="556" y1="334.6" x2="568" y2="334.6" stroke="#161616" stroke-width="1.0"/>
<line x1="556" y1="337" x2="568" y2="337" stroke="#161616" stroke-width="1.0"/>
<line x1="556" y1="339.4" x2="568" y2="339.4" stroke="#161616" stroke-width="1.0"/>
<line x1="556" y1="341.8" x2="568" y2="341.8" stroke="#161616" stroke-width="1.0"/>
<line x1="556" y1="344.2" x2="568" y2="344.2" stroke="#161616" stroke-width="1.0"/>
<rect x="569" y="326" width="60" height="14" fill="none" stroke="#161616" stroke-width="1.1"/>
<line x1="571.3" y1="326" x2="571.3" y2="340" stroke="#161616" stroke-width="1.0"/>
<line x1="573.6" y1="326" x2="573.6" y2="340" stroke="#161616" stroke-width="1.0"/>
<line x1="575.9" y1="326" x2="575.9" y2="340" stroke="#161616" stroke-width="1.0"/>
<line x1="578.2" y1="326" x2="578.2" y2="340" stroke="#161616" stroke-width="1.0"/>
<line x1="580.5" y1="326" x2="580.5" y2="340" stroke="#161616" stroke-width="1.0"/>
<line x1="582.8" y1="326" x2="582.8" y2="340" stroke="#161616" stroke-width="1.0"/>
<line x1="585.1" y1="326" x2="585.1" y2="340" stroke="#161616" stroke-width="1.0"/>
<line x1="587.4" y1="326" x2="587.4" y2="340" stroke="#161616" stroke-width="1.0"/>
<line x1="589.7" y1="326" x2="589.7" y2="340" stroke="#161616" stroke-width="1.0"/>
<line x1="592" y1="326" x2="592" y2="340" stroke="#161616" stroke-width="1.0"/>
<line x1="594.3" y1="326" x2="594.3" y2="340" stroke="#161616" stroke-width="1.0"/>
<line x1="596.6" y1="326" x2="596.6" y2="340" stroke="#161616" stroke-width="1.0"/>
<line x1="598.9" y1="326" x2="598.9" y2="340" stroke="#161616" stroke-width="1.0"/>
<line x1="601.2" y1="326" x2="601.2" y2="340" stroke="#161616" stroke-width="1.0"/>
<line x1="603.5" y1="326" x2="603.5" y2="340" stroke="#161616" stroke-width="1.0"/>
<line x1="605.8" y1="326" x2="605.8" y2="340" stroke="#161616" stroke-width="1.0"/>
<line x1="608.1" y1="326" x2="608.1" y2="340" stroke="#161616" stroke-width="1.0"/>
<line x1="610.4" y1="326" x2="610.4" y2="340" stroke="#161616" stroke-width="1.0"/>
<line x1="612.7" y1="326" x2="612.7" y2="340" stroke="#161616" stroke-width="1.0"/>
<line x1="615" y1="326" x2="615" y2="340" stroke="#161616" stroke-width="1.0"/>
<line x1="617.3" y1="326" x2="617.3" y2="340" stroke="#161616" stroke-width="1.0"/>
<line x1="619.6" y1="326" x2="619.6" y2="340" stroke="#161616" stroke-width="1.0"/>
<line x1="621.9" y1="326" x2="621.9" y2="340" stroke="#161616" stroke-width="1.0"/>
<line x1="624.2" y1="326" x2="624.2" y2="340" stroke="#161616" stroke-width="1.0"/>
<line x1="626.5" y1="326" x2="626.5" y2="340" stroke="#161616" stroke-width="1.0"/>
<rect x="538" y="346" width="31" height="3" fill="#161616"/>
<rect x="621" y="346" width="9" height="3" fill="#161616"/>
<rect x="501" y="447" width="139" height="10" fill="#161616"/>
<rect x="555" y="451.5" width="34" height="11" fill="#161616"/>
<rect x="557.05" y="453.1" width="1.3" height="7.8" fill="#fff"/>
<rect x="559.65" y="453.1" width="1.3" height="7.8" fill="#fff"/>
<rect x="562.25" y="453.1" width="1.3" height="7.8" fill="#fff"/>
<rect x="564.85" y="453.1" width="1.3" height="7.8" fill="#fff"/>
<rect x="567.45" y="453.1" width="1.3" height="7.8" fill="#fff"/>
<rect x="570.05" y="453.1" width="1.3" height="7.8" fill="#fff"/>
<rect x="572.65" y="453.1" width="1.3" height="7.8" fill="#fff"/>
<rect x="575.25" y="453.1" width="1.3" height="7.8" fill="#fff"/>
<rect x="577.85" y="453.1" width="1.3" height="7.8" fill="#fff"/>
<rect x="580.45" y="453.1" width="1.3" height="7.8" fill="#fff"/>
<rect x="583.05" y="453.1" width="1.3" height="7.8" fill="#fff"/>
<rect x="585.65" y="453.1" width="1.3" height="7.8" fill="#fff"/>
<rect x="557" y="445.5" width="30" height="6" fill="#fff"/>
<rect x="557" y="445.5" width="30" height="6" fill="none" stroke="#161616" stroke-width="1.1"/>
<line x1="558" y1="448.5" x2="586" y2="448.5" stroke="#161616" stroke-width="0.9"/>
<rect x="439.5" y="332" width="3.5" height="65" fill="#161616"/>
<rect x="508" y="331" width="3.5" height="66" fill="#161616"/>
<rect x="440" y="397" width="73" height="6" fill="#161616"/>
<rect x="460" y="397" width="31" height="6" fill="#fff"/>
<rect x="440" y="397" width="10" height="125" fill="#161616"/>
<rect x="501" y="397" width="12" height="61" fill="#161616"/>
<circle cx="453.9" cy="405.7" r="0.91" fill="#161616"/>
<circle cx="462.9" cy="409.2" r="0.64" fill="#161616"/>
<line x1="471.55" y1="408.34" x2="470.48" y2="410.27" stroke="#161616" stroke-width="1.0"/>
<circle cx="476.9" cy="405.2" r="0.81" fill="#161616"/>
<line x1="482.36" y1="408.93" x2="484.46" y2="409.32" stroke="#161616" stroke-width="1.0"/>
<line x1="488.87" y1="410.52" x2="490.49" y2="411.82" stroke="#161616" stroke-width="1.0"/>
<line x1="456.04" y1="412.46" x2="454.71" y2="414.43" stroke="#161616" stroke-width="1.0"/>
<line x1="458.93" y1="413.92" x2="458.45" y2="415.25" stroke="#161616" stroke-width="1.0"/>
<circle cx="472.7" cy="417.9" r="0.52" fill="#161616"/>
<line x1="478.6" y1="414.59" x2="478.63" y2="416.26" stroke="#161616" stroke-width="1.0"/>
<circle cx="481.3" cy="412.5" r="0.81" fill="#161616"/>
<circle cx="491.8" cy="417.1" r="0.89" fill="#161616"/>
<circle cx="452.0" cy="419.5" r="0.88" fill="#161616"/>
<circle cx="465.1" cy="424.7" r="0.78" fill="#161616"/>
<line x1="467.01" y1="425.74" x2="465.65" y2="427.11" stroke="#161616" stroke-width="1.0"/>
<line x1="476.72" y1="425.43" x2="477.97" y2="426.62" stroke="#161616" stroke-width="1.0"/>
<circle cx="486.6" cy="424.2" r="0.68" fill="#161616"/>
<circle cx="495.9" cy="421.1" r="0.79" fill="#161616"/>
<circle cx="498.2" cy="425.8" r="0.91" fill="#161616"/>
<line x1="453.86" y1="433.23" x2="452.89" y2="434.32" stroke="#161616" stroke-width="1.0"/>
<circle cx="459.8" cy="426.8" r="0.78" fill="#161616"/>
<circle cx="466.5" cy="428.4" r="0.53" fill="#161616"/>
<line x1="476.05" y1="428.29" x2="478.28" y2="429.16" stroke="#161616" stroke-width="1.0"/>
<circle cx="485.6" cy="431.9" r="0.70" fill="#161616"/>
<line x1="495.93" y1="433.3" x2="497.83" y2="433.48" stroke="#161616" stroke-width="1.0"/>
<circle cx="454.9" cy="439.0" r="0.81" fill="#161616"/>
<circle cx="464.4" cy="434.6" r="0.75" fill="#161616"/>
<line x1="468.7" y1="439.23" x2="467.2" y2="439.68" stroke="#161616" stroke-width="1.0"/>
<line x1="474.72" y1="440.52" x2="472.79" y2="441.67" stroke="#161616" stroke-width="1.0"/>
<circle cx="483.2" cy="438.5" r="0.85" fill="#161616"/>
<circle cx="493.8" cy="435.9" r="0.75" fill="#161616"/>
<circle cx="497.9" cy="435.5" r="0.49" fill="#161616"/>
<line x1="454.73" y1="448.7" x2="456.89" y2="449.07" stroke="#161616" stroke-width="1.0"/>
<circle cx="463.9" cy="447.0" r="0.83" fill="#161616"/>
<circle cx="467.5" cy="447.7" r="0.63" fill="#161616"/>
<circle cx="474.9" cy="448.2" r="0.89" fill="#161616"/>
<line x1="484.97" y1="442.74" x2="484.85" y2="443.97" stroke="#161616" stroke-width="1.0"/>
<circle cx="494.8" cy="443.7" r="0.83" fill="#161616"/>
<circle cx="452.4" cy="453.1" r="0.79" fill="#161616"/>
<line x1="462.21" y1="453.42" x2="463.38" y2="454.22" stroke="#161616" stroke-width="1.0"/>
<line x1="469.69" y1="454.82" x2="468.15" y2="455.59" stroke="#161616" stroke-width="1.0"/>
<circle cx="478.9" cy="449.9" r="0.48" fill="#161616"/>
<circle cx="493.7" cy="454.8" r="0.85" fill="#161616"/>
<circle cx="496.8" cy="451.9" r="0.88" fill="#161616"/>
<line x1="450" y1="457" x2="502" y2="457" stroke="#161616" stroke-width="1.3"/>
<path d="M462,402 A38,38 0 0 1 502,367" stroke="#161616" stroke-width="1.3" fill="none" />
<line x1="502" y1="367" x2="491" y2="400" stroke="#161616" stroke-width="2"/>
<line x1="462.5" y1="458" x2="462.5" y2="537.5" stroke="#161616" stroke-width="1.4"/>
<line x1="491.5" y1="458" x2="491.5" y2="566" stroke="#161616" stroke-width="1.4"/>
<line x1="400" y1="537.5" x2="462.5" y2="537.5" stroke="#161616" stroke-width="1.4"/>
<line x1="232" y1="565.5" x2="492" y2="565.5" stroke="#161616" stroke-width="1.4"/>
<clipPath id="ch1"><polygon points="484,297 498,312 492,322 471,303 476,297"/></clipPath>
<g clip-path="url(#ch1)"><path d="M471.0,297.0 L446.0,322.0 M446.0,297.0 L471.0,322.0 M475.6,297.0 L450.6,322.0 M450.6,297.0 L475.6,322.0 M480.2,297.0 L455.2,322.0 M455.2,297.0 L480.2,322.0 M484.8,297.0 L459.8,322.0 M459.8,297.0 L484.8,322.0 M489.4,297.0 L464.4,322.0 M464.4,297.0 L489.4,322.0 M494.0,297.0 L469.0,322.0 M469.0,297.0 L494.0,322.0 M498.6,297.0 L473.6,322.0 M473.6,297.0 L498.6,322.0 M503.2,297.0 L478.2,322.0 M478.2,297.0 L503.2,322.0 M507.8,297.0 L482.8,322.0 M482.8,297.0 L507.8,322.0 M512.4,297.0 L487.4,322.0 M487.4,297.0 L512.4,322.0 M517.0,297.0 L492.0,322.0 M492.0,297.0 L517.0,322.0 M521.6,297.0 L496.6,322.0 M496.6,297.0 L521.6,322.0 " stroke="#161616" stroke-width="1.4"/></g>
<clipPath id="ch2"><polygon points="447,357 468,378 466,388 452,385 445,368"/></clipPath>
<g clip-path="url(#ch2)"><path d="M445.0,357.0 L414.0,388.0 M414.0,357.0 L445.0,388.0 M449.6,357.0 L418.6,388.0 M418.6,357.0 L449.6,388.0 M454.2,357.0 L423.2,388.0 M423.2,357.0 L454.2,388.0 M458.8,357.0 L427.8,388.0 M427.8,357.0 L458.8,388.0 M463.4,357.0 L432.4,388.0 M432.4,357.0 L463.4,388.0 M468.0,357.0 L437.0,388.0 M437.0,357.0 L468.0,388.0 M472.6,357.0 L441.6,388.0 M441.6,357.0 L472.6,388.0 M477.2,357.0 L446.2,388.0 M446.2,357.0 L477.2,388.0 M481.8,357.0 L450.8,388.0 M450.8,357.0 L481.8,388.0 M486.4,357.0 L455.4,388.0 M455.4,357.0 L486.4,388.0 M491.0,357.0 L460.0,388.0 M460.0,357.0 L491.0,388.0 M495.6,357.0 L464.6,388.0 M464.6,357.0 L495.6,388.0 " stroke="#161616" stroke-width="1.4"/></g>
<clipPath id="ch3"><polygon points="378,312 392,320 390,330 372,328"/></clipPath>
<g clip-path="url(#ch3)"><path d="M372.0,312.0 L354.0,330.0 M354.0,312.0 L372.0,330.0 M376.6,312.0 L358.6,330.0 M358.6,312.0 L376.6,330.0 M381.2,312.0 L363.2,330.0 M363.2,312.0 L381.2,330.0 M385.8,312.0 L367.8,330.0 M367.8,312.0 L385.8,330.0 M390.4,312.0 L372.4,330.0 M372.4,312.0 L390.4,330.0 M395.0,312.0 L377.0,330.0 M377.0,312.0 L395.0,330.0 M399.6,312.0 L381.6,330.0 M381.6,312.0 L399.6,330.0 M404.2,312.0 L386.2,330.0 M386.2,312.0 L404.2,330.0 M408.8,312.0 L390.8,330.0 M390.8,312.0 L408.8,330.0 " stroke="#161616" stroke-width="1.4"/></g>
<line x1="468" y1="296" x2="476" y2="303" stroke="#161616" stroke-width="1.1"/>
<line x1="471" y1="300" x2="474" y2="296" stroke="#161616" stroke-width="1.1"/>
<line x1="446" y1="352" x2="452" y2="359" stroke="#161616" stroke-width="1.1"/>
<line x1="448" y1="358" x2="452" y2="353" stroke="#161616" stroke-width="1.1"/>
<rect x="295" y="332" width="19" height="4" fill="#161616"/>
<rect x="296.5" y="334" width="4.5" height="96" fill="#161616"/>
<rect x="434" y="511" width="16" height="11" fill="#161616"/>
<rect x="404" y="514" width="30" height="12" fill="#161616"/>
<rect x="406.65" y="515.6" width="1.3" height="8.8" fill="#fff"/>
<rect x="409.25" y="515.6" width="1.3" height="8.8" fill="#fff"/>
<rect x="411.85" y="515.6" width="1.3" height="8.8" fill="#fff"/>
<rect x="414.45" y="515.6" width="1.3" height="8.8" fill="#fff"/>
<rect x="417.05" y="515.6" width="1.3" height="8.8" fill="#fff"/>
<rect x="419.65" y="515.6" width="1.3" height="8.8" fill="#fff"/>
<rect x="422.25" y="515.6" width="1.3" height="8.8" fill="#fff"/>
<rect x="424.85" y="515.6" width="1.3" height="8.8" fill="#fff"/>
<rect x="427.45" y="515.6" width="1.3" height="8.8" fill="#fff"/>
<rect x="430.05" y="515.6" width="1.3" height="8.8" fill="#fff"/>
<rect x="407" y="508" width="24" height="6" fill="#fff"/>
<rect x="407" y="508" width="24" height="6" fill="none" stroke="#161616" stroke-width="1.1"/>
<line x1="408" y1="511" x2="430" y2="511" stroke="#161616" stroke-width="0.9"/>
<rect x="343" y="493" width="56" height="44" fill="#161616"/>
<rect x="344" y="494" width="54" height="16.5" fill="#161616"/>
<rect x="346.2" y="495.6" width="1.3" height="13.3" fill="#fff"/>
<rect x="348.5" y="495.6" width="1.3" height="13.3" fill="#fff"/>
<rect x="350.8" y="495.6" width="1.3" height="13.3" fill="#fff"/>
<rect x="353.1" y="495.6" width="1.3" height="13.3" fill="#fff"/>
<rect x="355.4" y="495.6" width="1.3" height="13.3" fill="#fff"/>
<rect x="357.7" y="495.6" width="1.3" height="13.3" fill="#fff"/>
<rect x="360" y="495.6" width="1.3" height="13.3" fill="#fff"/>
<rect x="362.3" y="495.6" width="1.3" height="13.3" fill="#fff"/>
<rect x="364.6" y="495.6" width="1.3" height="13.3" fill="#fff"/>
<rect x="366.9" y="495.6" width="1.3" height="13.3" fill="#fff"/>
<rect x="369.2" y="495.6" width="1.3" height="13.3" fill="#fff"/>
<rect x="371.5" y="495.6" width="1.3" height="13.3" fill="#fff"/>
<rect x="373.8" y="495.6" width="1.3" height="13.3" fill="#fff"/>
<rect x="376.1" y="495.6" width="1.3" height="13.3" fill="#fff"/>
<rect x="378.4" y="495.6" width="1.3" height="13.3" fill="#fff"/>
<rect x="380.7" y="495.6" width="1.3" height="13.3" fill="#fff"/>
<rect x="383" y="495.6" width="1.3" height="13.3" fill="#fff"/>
<rect x="385.3" y="495.6" width="1.3" height="13.3" fill="#fff"/>
<rect x="387.6" y="495.6" width="1.3" height="13.3" fill="#fff"/>
<rect x="389.9" y="495.6" width="1.3" height="13.3" fill="#fff"/>
<rect x="392.2" y="495.6" width="1.3" height="13.3" fill="#fff"/>
<rect x="394.5" y="495.6" width="1.3" height="13.3" fill="#fff"/>
<polygon points="357,511 386,511 382,526 361,526" fill="#f4f4f4"/>
<rect x="338" y="508" width="5" height="28" fill="#161616"/>
<rect x="399" y="508" width="5" height="19" fill="#161616"/>
<rect x="330" y="514" width="10" height="12" fill="#161616"/>
<rect x="331.75" y="515.6" width="1.3" height="8.8" fill="#fff"/>
<rect x="334.35" y="515.6" width="1.3" height="8.8" fill="#fff"/>
<rect x="336.95" y="515.6" width="1.3" height="8.8" fill="#fff"/>
<rect x="331" y="509" width="8" height="5" fill="#fff"/>
<rect x="331" y="509" width="8" height="5" fill="none" stroke="#161616" stroke-width="1.1"/>
<line x1="332" y1="511.5" x2="338" y2="511.5" stroke="#161616" stroke-width="0.9"/>
<rect x="303.5" y="521" width="40" height="2" fill="#161616"/>
<rect x="302.5" y="335.5" width="136" height="173" fill="none" stroke="#161616" stroke-width="1.0" stroke-dasharray="4.5,2.5"/>
<rect x="305.5" y="340.5" width="64" height="40" fill="none" stroke="#161616" stroke-width="1.0" stroke-dasharray="4.5,2.5"/>
<rect x="372.5" y="340.5" width="64" height="40" fill="none" stroke="#161616" stroke-width="1.0" stroke-dasharray="4.5,2.5"/>
<rect x="305.5" y="383.5" width="64" height="40" fill="none" stroke="#161616" stroke-width="1.0" stroke-dasharray="4.5,2.5"/>
<rect x="372.5" y="383.5" width="64" height="40" fill="none" stroke="#161616" stroke-width="1.0" stroke-dasharray="4.5,2.5"/>
<rect x="305.5" y="426.5" width="64" height="40" fill="none" stroke="#161616" stroke-width="1.0" stroke-dasharray="4.5,2.5"/>
<rect x="372.5" y="426.5" width="64" height="40" fill="none" stroke="#161616" stroke-width="1.0" stroke-dasharray="4.5,2.5"/>
<rect x="305.5" y="469.5" width="64" height="38" fill="none" stroke="#161616" stroke-width="1.0" stroke-dasharray="4.5,2.5"/>
<rect x="372.5" y="469.5" width="64" height="38" fill="none" stroke="#161616" stroke-width="1.0" stroke-dasharray="4.5,2.5"/>
<line x1="311.5" y1="298" x2="311.5" y2="332" stroke="#161616" stroke-width="1.3" stroke-dasharray="3,2"/>
<line x1="314.5" y1="298" x2="314.5" y2="332" stroke="#161616" stroke-width="1.0" stroke-dasharray="3,2"/>
<line x1="318" y1="334.5" x2="438" y2="334.5" stroke="#161616" stroke-width="1.2" stroke-dasharray="4.5,2.5"/>
<rect x="247" y="333" width="24" height="3.5" fill="#161616"/>
<rect x="294" y="333" width="20" height="3.5" fill="#161616"/>
<rect x="248" y="336" width="4" height="94" fill="#161616"/>
<rect x="248" y="424" width="53" height="4" fill="#161616"/>
<path d="M259.5,337 L259.5,427 M259.5,337 L268.5,337 L268.5,370 Q268.5,374 264.5,374 L259.5,374" stroke="#161616" stroke-width="1.3" fill="none" />
<rect x="251" y="377" width="21" height="24" fill="none" stroke="#161616" stroke-width="1.1" stroke-dasharray="3,2"/>
<rect x="251" y="401" width="21" height="24" fill="none" stroke="#161616" stroke-width="1.1" stroke-dasharray="3,2"/>
<rect x="251" y="428" width="29" height="48" fill="none" stroke="#161616" stroke-width="1.2"/>
<circle cx="265" cy="440" r="8.5" fill="none" stroke="#161616" stroke-width="1.2"/>
<rect x="254" y="451" width="24" height="18" fill="none" stroke="#161616" stroke-width="1.2"/>
<rect x="280" y="428" width="3" height="48" fill="#161616"/>
<rect x="284" y="439" width="14" height="10" fill="none" stroke="#161616" stroke-width="1.2"/>
<rect x="248.6" y="467" width="10.5" height="48" fill="#161616"/>
<rect x="231" y="504" width="28" height="11" fill="#161616"/>
<rect x="248.6" y="476" width="55" height="10" fill="#161616"/>
<rect x="293" y="476" width="10.5" height="47" fill="#161616"/>
<rect x="303.5" y="469.5" width="46" height="40" fill="none" stroke="#161616" stroke-width="1.3" stroke-dasharray="4.5,2.5"/>
<rect x="308" y="515" width="30" height="12" fill="#161616"/>
<rect x="310.65" y="516.6" width="1.3" height="8.8" fill="#fff"/>
<rect x="313.25" y="516.6" width="1.3" height="8.8" fill="#fff"/>
<rect x="315.85" y="516.6" width="1.3" height="8.8" fill="#fff"/>
<rect x="318.45" y="516.6" width="1.3" height="8.8" fill="#fff"/>
<rect x="321.05" y="516.6" width="1.3" height="8.8" fill="#fff"/>
<rect x="323.65" y="516.6" width="1.3" height="8.8" fill="#fff"/>
<rect x="326.25" y="516.6" width="1.3" height="8.8" fill="#fff"/>
<rect x="328.85" y="516.6" width="1.3" height="8.8" fill="#fff"/>
<rect x="331.45" y="516.6" width="1.3" height="8.8" fill="#fff"/>
<rect x="334.05" y="516.6" width="1.3" height="8.8" fill="#fff"/>
<rect x="311" y="509" width="24" height="6" fill="#fff"/>
<rect x="311" y="509" width="24" height="6" fill="none" stroke="#161616" stroke-width="1.1"/>
<line x1="312" y1="512" x2="334" y2="512" stroke="#161616" stroke-width="0.9"/>
<line x1="88" y1="504.5" x2="232" y2="504.5" stroke="#161616" stroke-width="1.4"/>
<line x1="88" y1="521.5" x2="232" y2="521.5" stroke="#161616" stroke-width="1.4"/>
<circle cx="90.7" cy="509.5" r="0.86" fill="#161616"/>
<line x1="97.47" y1="509.8" x2="98.22" y2="512.04" stroke="#161616" stroke-width="1.0"/>
<line x1="107.79" y1="509.77" x2="107.36" y2="511.34" stroke="#161616" stroke-width="1.0"/>
<line x1="116.5" y1="508.78" x2="115.39" y2="509.33" stroke="#161616" stroke-width="1.0"/>
<line x1="118.3" y1="509.29" x2="119.94" y2="510.31" stroke="#161616" stroke-width="1.0"/>
<line x1="125.93" y1="511.41" x2="124.88" y2="512.38" stroke="#161616" stroke-width="1.0"/>
<line x1="135.51" y1="509.01" x2="135.72" y2="511.29" stroke="#161616" stroke-width="1.0"/>
<line x1="143.94" y1="511.67" x2="142.33" y2="512.7" stroke="#161616" stroke-width="1.0"/>
<circle cx="145.2" cy="512.8" r="0.46" fill="#161616"/>
<circle cx="153.9" cy="508.9" r="0.93" fill="#161616"/>
<circle cx="158.6" cy="512.2" r="0.54" fill="#161616"/>
<circle cx="167.1" cy="509.1" r="0.83" fill="#161616"/>
<line x1="176.04" y1="512.76" x2="174.17" y2="514.25" stroke="#161616" stroke-width="1.0"/>
<circle cx="184.9" cy="510.4" r="0.71" fill="#161616"/>
<line x1="190.92" y1="512.37" x2="189.84" y2="512.96" stroke="#161616" stroke-width="1.0"/>
<circle cx="195.1" cy="506.6" r="0.74" fill="#161616"/>
<circle cx="202.9" cy="511.9" r="0.81" fill="#161616"/>
<line x1="209.99" y1="507.47" x2="211.73" y2="507.76" stroke="#161616" stroke-width="1.0"/>
<line x1="216.52" y1="510.1" x2="216.16" y2="512.33" stroke="#161616" stroke-width="1.0"/>
<circle cx="221.7" cy="509.3" r="0.77" fill="#161616"/>
<circle cx="229.5" cy="511.4" r="0.68" fill="#161616"/>
<line x1="95.6" y1="512.96" x2="94.5" y2="514.71" stroke="#161616" stroke-width="1.0"/>
<line x1="99.71" y1="516.33" x2="101" y2="517.91" stroke="#161616" stroke-width="1.0"/>
<circle cx="107.4" cy="517.9" r="0.46" fill="#161616"/>
<line x1="114.97" y1="514.8" x2="112.84" y2="514.89" stroke="#161616" stroke-width="1.0"/>
<circle cx="119.3" cy="518.8" r="0.61" fill="#161616"/>
<line x1="127.33" y1="517.38" x2="127.05" y2="519.04" stroke="#161616" stroke-width="1.0"/>
<line x1="135.39" y1="515.11" x2="136.75" y2="515.14" stroke="#161616" stroke-width="1.0"/>
<circle cx="143.1" cy="514.4" r="0.48" fill="#161616"/>
<circle cx="149.3" cy="515.1" r="0.59" fill="#161616"/>
<circle cx="157.3" cy="518.1" r="0.93" fill="#161616"/>
<circle cx="158.3" cy="516.2" r="0.84" fill="#161616"/>
<circle cx="165.7" cy="518.6" r="0.82" fill="#161616"/>
<circle cx="177.9" cy="516.9" r="0.78" fill="#161616"/>
<line x1="181.43" y1="517.91" x2="183.21" y2="518.53" stroke="#161616" stroke-width="1.0"/>
<line x1="189.75" y1="519.25" x2="189" y2="521.24" stroke="#161616" stroke-width="1.0"/>
<circle cx="193.3" cy="518.8" r="0.77" fill="#161616"/>
<circle cx="200.1" cy="516.5" r="0.55" fill="#161616"/>
<circle cx="212.4" cy="518.7" r="0.49" fill="#161616"/>
<circle cx="219.6" cy="513.7" r="0.73" fill="#161616"/>
<line x1="225.6" y1="517.39" x2="225.51" y2="519.77" stroke="#161616" stroke-width="1.0"/>
<circle cx="99.2" cy="520.3" r="0.93" fill="#161616"/>
<line x1="137.22" y1="519.87" x2="137.99" y2="520.93" stroke="#161616" stroke-width="1.0"/>
<circle cx="153.0" cy="520.7" r="0.69" fill="#161616"/>
<line x1="163.16" y1="520.33" x2="162.15" y2="521.9" stroke="#161616" stroke-width="1.0"/>
<circle cx="167.3" cy="520.0" r="0.66" fill="#161616"/>
<circle cx="176.2" cy="520.2" r="0.46" fill="#161616"/>
<circle cx="181.8" cy="520.2" r="0.67" fill="#161616"/>
<circle cx="224.4" cy="519.9" r="0.71" fill="#161616"/>
<line x1="87.5" y1="516" x2="87.5" y2="571" stroke="#161616" stroke-width="1.4"/>
<line x1="232.5" y1="515" x2="232.5" y2="587" stroke="#161616" stroke-width="1.4"/>
<line x1="232" y1="537.5" x2="400" y2="537.5" stroke="#161616" stroke-width="1.4"/>
<line x1="243.78" y1="539.6" x2="243.9" y2="541.93" stroke="#161616" stroke-width="1.0"/>
<circle cx="248.5" cy="549.1" r="0.95" fill="#161616"/>
<circle cx="259.6" cy="541.0" r="0.77" fill="#161616"/>
<circle cx="266.4" cy="543.3" r="0.48" fill="#161616"/>
<circle cx="279.0" cy="541.5" r="0.84" fill="#161616"/>
<line x1="292.7" y1="548.45" x2="290.49" y2="549.21" stroke="#161616" stroke-width="1.0"/>
<line x1="305.48" y1="546.4" x2="305.29" y2="547.76" stroke="#161616" stroke-width="1.0"/>
<circle cx="315.9" cy="544.8" r="0.50" fill="#161616"/>
<line x1="323.21" y1="546.69" x2="322.4" y2="548.2" stroke="#161616" stroke-width="1.0"/>
<line x1="332.51" y1="539.05" x2="332.35" y2="540.79" stroke="#161616" stroke-width="1.0"/>
<circle cx="345.1" cy="540.4" r="0.51" fill="#161616"/>
<circle cx="360.9" cy="542.4" r="0.66" fill="#161616"/>
<line x1="371.31" y1="547.2" x2="373.4" y2="548.27" stroke="#161616" stroke-width="1.0"/>
<circle cx="385.7" cy="548.0" r="0.93" fill="#161616"/>
<line x1="396.27" y1="541.63" x2="394.4" y2="542.59" stroke="#161616" stroke-width="1.0"/>
<line x1="408.25" y1="544.83" x2="410.19" y2="545.3" stroke="#161616" stroke-width="1.0"/>
<line x1="410.97" y1="546.98" x2="411.47" y2="548.16" stroke="#161616" stroke-width="1.0"/>
<circle cx="420.9" cy="544.7" r="0.82" fill="#161616"/>
<line x1="438.12" y1="544.51" x2="439.68" y2="545.31" stroke="#161616" stroke-width="1.0"/>
<line x1="442.93" y1="545.03" x2="444.73" y2="545.98" stroke="#161616" stroke-width="1.0"/>
<circle cx="464.4" cy="542.6" r="0.58" fill="#161616"/>
<line x1="473.65" y1="539.89" x2="475.09" y2="541.43" stroke="#161616" stroke-width="1.0"/>
<circle cx="485.3" cy="548.3" r="0.72" fill="#161616"/>
<circle cx="236.3" cy="551.9" r="0.49" fill="#161616"/>
<circle cx="246.5" cy="557.8" r="0.54" fill="#161616"/>
<line x1="265.35" y1="552.9" x2="264.33" y2="554.46" stroke="#161616" stroke-width="1.0"/>
<line x1="273.22" y1="556.43" x2="272.35" y2="557.67" stroke="#161616" stroke-width="1.0"/>
<line x1="284.32" y1="555.61" x2="285.94" y2="556.24" stroke="#161616" stroke-width="1.0"/>
<line x1="298.77" y1="550.77" x2="296.93" y2="551.36" stroke="#161616" stroke-width="1.0"/>
<circle cx="299.8" cy="558.6" r="0.71" fill="#161616"/>
<circle cx="319.2" cy="553.5" r="0.51" fill="#161616"/>
<line x1="324.96" y1="551.15" x2="323.87" y2="551.79" stroke="#161616" stroke-width="1.0"/>
<line x1="338.02" y1="558.75" x2="339.25" y2="560.11" stroke="#161616" stroke-width="1.0"/>
<line x1="350.74" y1="555.76" x2="348.48" y2="556.41" stroke="#161616" stroke-width="1.0"/>
<circle cx="355.6" cy="550.3" r="0.74" fill="#161616"/>
<line x1="368.19" y1="552.7" x2="367.22" y2="553.43" stroke="#161616" stroke-width="1.0"/>
<circle cx="377.6" cy="558.0" r="0.53" fill="#161616"/>
<circle cx="397.8" cy="553.7" r="0.66" fill="#161616"/>
<line x1="402.81" y1="557.15" x2="404.52" y2="557.6" stroke="#161616" stroke-width="1.0"/>
<line x1="419.3" y1="555.38" x2="417.24" y2="556.05" stroke="#161616" stroke-width="1.0"/>
<line x1="427.55" y1="551.24" x2="428.47" y2="552.51" stroke="#161616" stroke-width="1.0"/>
<line x1="436.96" y1="555.92" x2="436.67" y2="558.21" stroke="#161616" stroke-width="1.0"/>
<circle cx="451.1" cy="557.1" r="0.77" fill="#161616"/>
<circle cx="459.0" cy="558.4" r="0.85" fill="#161616"/>
<line x1="472.33" y1="551.99" x2="472.41" y2="553.72" stroke="#161616" stroke-width="1.0"/>
<line x1="479.21" y1="554.29" x2="477.5" y2="554.71" stroke="#161616" stroke-width="1.0"/>
<circle cx="248.7" cy="561.3" r="0.60" fill="#161616"/>
<circle cx="263.7" cy="563.0" r="0.90" fill="#161616"/>
<circle cx="277.2" cy="562.0" r="0.65" fill="#161616"/>
<line x1="294.05" y1="564.66" x2="292.19" y2="564.99" stroke="#161616" stroke-width="1.0"/>
<line x1="381.94" y1="562.4" x2="381.23" y2="563.82" stroke="#161616" stroke-width="1.0"/>
<line x1="398.87" y1="563.46" x2="397.41" y2="564.6" stroke="#161616" stroke-width="1.0"/>
<circle cx="416.3" cy="561.2" r="0.73" fill="#161616"/>
<line x1="434.2" y1="564.85" x2="433.14" y2="565.45" stroke="#161616" stroke-width="1.0"/>
<circle cx="485.5" cy="561.8" r="0.67" fill="#161616"/>
<circle cx="470.2" cy="468.3" r="0.81" fill="#161616"/>
<line x1="485.51" y1="464.05" x2="484.04" y2="465.73" stroke="#161616" stroke-width="1.0"/>
<line x1="486.67" y1="459.97" x2="485.61" y2="461.05" stroke="#161616" stroke-width="1.0"/>
<circle cx="471.6" cy="471.6" r="0.67" fill="#161616"/>
<circle cx="477.3" cy="471.2" r="0.77" fill="#161616"/>
<line x1="489.94" y1="477.29" x2="491.45" y2="477.55" stroke="#161616" stroke-width="1.0"/>
<circle cx="464.1" cy="489.1" r="0.67" fill="#161616"/>
<line x1="477.49" y1="490.27" x2="477.85" y2="492.43" stroke="#161616" stroke-width="1.0"/>
<line x1="488.92" y1="485.24" x2="489.96" y2="486.14" stroke="#161616" stroke-width="1.0"/>
<line x1="463.37" y1="500.67" x2="465.12" y2="500.96" stroke="#161616" stroke-width="1.0"/>
<circle cx="479.2" cy="496.7" r="0.64" fill="#161616"/>
<circle cx="487.9" cy="503.6" r="0.72" fill="#161616"/>
<circle cx="470.4" cy="512.1" r="0.71" fill="#161616"/>
<circle cx="485.5" cy="506.5" r="0.60" fill="#161616"/>
<circle cx="467.5" cy="517.0" r="0.78" fill="#161616"/>
<circle cx="477.3" cy="521.4" r="0.61" fill="#161616"/>
<line x1="488.46" y1="526.64" x2="488.52" y2="528.12" stroke="#161616" stroke-width="1.0"/>
<circle cx="472.7" cy="534.2" r="0.54" fill="#161616"/>
<circle cx="485.7" cy="531.5" r="0.50" fill="#161616"/>
<path d="M639.9,368.0 L640.2,366.8 L641.3,365.5 L643.3,364.8 L645.4,364.7 L647.4,365.1 L648.9,366.2 L649.9,367.6 L650.0,369.5 L649.4,371.7 L648.3,374.3 L647.2,376.2 L645.5,377.9 L644.3,378.9 L643.4,379.6 L642.1,379.4 L641.3,378.8 L640.5,377.7 L640.1,376.6 L640.2,376.4 L640.5,375.6 L641.5,374.7 L643.5,374.2 L645.5,373.9 L648.0,374.5 L650.0,375.2 L651.1,376.9 L651.2,378.5 L650.9,380.6 L649.5,382.6 L647.8,384.4 L646.1,386.0 L644.7,387.3 L643.7,387.7 L642.3,387.7 L641.4,387.2 L640.7,386.4 L640.4,385.3 L640.7,385.5 L640.8,385.0 L641.3,384.8 L642.6,384.9 L644.1,385.1 L645.1,385.8 L646.2,386.5 L646.6,387.7 L646.8,389.2 L646.4,390.6 L645.8,392.0 L644.8,393.2 L644.3,394.6 L643.6,395.6 L642.9,396.0 L642.3,396.5 L641.5,396.6 L641.1,396.1 L640.9,396.2 L641.0,396.0 L641.1,395.5 L641.3,394.9 L642.1,394.7 L642.7,394.8 L643.6,395.0 L644.0,395.8 L644.5,396.8 L644.6,398.2 L644.2,399.6 L643.8,401.0 L643.3,402.2 L643.1,403.4 L642.6,404.1 L642.4,404.6 L641.7,404.6 L641.4,404.5 L641.3,403.9 L641.2,403.3 L641.1,403.2 L641.2,402.7 L641.4,402.3 L641.8,402.0 L642.6,401.8 L643.1,402.0 L643.7,402.9 L643.9,404.2 L644.1,405.2 L643.8,407.0 L643.6,408.5 L643.2,409.9 L643.1,410.9 L642.7,411.9 L642.1,412.1 L642.1,412.4 L641.7,411.9 L641.3,411.5 L641.6,410.7 L641.5,410.8 L641.4,410.4 L642.2,410.5 L643.3,410.6 L644.7,411.1 L646.2,411.3 L647.3,412.0 L648.1,412.9 L647.9,414.2 L647.8,415.4 L646.7,416.6 L646.1,417.9 L645.2,418.6 L644.4,419.5 L643.7,419.9 L643.1,420.4 L642.3,420.4 L641.8,420.7 L641.6,420.5 L641.6,420.5 L641.9,420.2 L642.7,420.2 L643.8,420.2 L645.3,420.3 L646.5,420.4 L648.0,421.2 L648.8,422.2 L649.0,423.4 L648.7,424.4 L647.9,425.7 L646.8,426.9 L645.8,427.9 L644.7,428.4 L643.9,429.0 L643.1,429.1 L642.5,429.3 L642.4,429.2 L641.9,429.1 L642.2,429.1 L642.1,428.4 L642.8,428.2 L643.8,427.7 L645.2,427.8 L646.6,428.4 L647.9,428.8 L648.9,429.9 L649.3,431.1 L648.7,432.3 L648.3,433.8 L646.9,435.1 L646.2,436.1 L645.1,437.2 L643.9,437.3 L643.2,437.4 L642.6,437.3 L642.6,437.0 L642.2,436.5 L642.2,436.4 L642.3,436.0 L642.9,435.5 L644.0,435.4 L645.2,435.4 L646.2,436.2 L647.4,436.5 L648.5,437.6 L648.3,439.0 L648.2,440.4 L647.7,441.7 L646.7,442.8 L645.9,444.1 L644.8,444.5 L644.0,445.2 L643.6,445.4 L643.2,445.1 L642.7,444.8 L642.7,444.3 L642.7,444.3 L642.7,444.1 L643.5,443.9 L644.1,444.2 L645.4,444.2 L646.5,444.8 L647.2,445.3 L647.6,446.0 L647.7,446.9 L647.3,447.7 L646.7,449.0 L646.1,449.7 L645.4,450.7 L644.9,451.4 L644.5,451.5 L643.8,452.0 L643.6,452.1 L642.9,451.9 L642.8,451.9 L642.8,451.5 L642.8,451.5 L643.5,451.1 L644.4,450.5 L646.0,450.6 L647.3,450.8 L648.3,451.7 L648.7,452.6 L649.0,453.7 L648.5,454.6 L647.8,455.8 L646.9,457.1 L646.0,457.9 L645.4,458.5 L644.7,458.9 L644.3,459.0 L643.7,458.7 L643.2,458.5 L643.1,458.1" stroke="#161616" stroke-width="1.0" fill="none" stroke-linejoin="round" stroke-linecap="round"/>
<path d="M644.1,385.0 L644.1,384.3 L645.4,384.0 L647.3,383.5 L649.4,383.0 L652.0,383.1 L653.9,383.8 L655.3,384.5 L655.6,385.9 L655.2,387.5 L653.9,389.3 L652.6,390.6 L650.9,392.0 L649.7,393.2 L648.4,393.8 L647.3,394.1 L646.4,393.8 L645.8,393.6 L645.5,393.0 L645.4,393.2 L645.2,392.8 L645.8,392.3 L646.9,392.2 L647.9,391.9 L649.5,392.2 L650.7,392.8 L651.7,393.6 L652.1,394.7 L651.8,395.8 L651.1,397.2 L650.5,398.3 L649.5,399.3 L648.8,400.3 L648.0,400.6 L647.5,401.1 L647.0,401.1 L646.5,400.8 L646.4,400.2 L646.5,400.5 L646.5,400.3 L647.0,399.8 L648.1,400.1 L649.2,400.1 L650.3,400.6 L651.2,401.5 L651.7,402.3 L651.8,403.7 L651.9,405.1 L651.4,406.6 L651.1,407.9 L650.5,409.2 L650.2,410.4 L649.7,410.9 L649.1,411.4 L648.9,411.8 L648.4,411.6 L648.1,411.5 L648.1,411.3 L648.3,411.0 L648.3,410.6 L649.0,410.1 L649.8,410.2 L650.6,410.7 L651.4,411.3 L651.8,412.3 L652.3,413.6 L652.2,415.3 L652.2,416.7 L651.7,418.1 L651.2,419.0 L650.8,420.1 L650.7,420.7 L650.3,420.6 L650.0,420.5 L649.5,420.3 L649.6,419.6 L649.7,419.9 L649.5,418.9 L650.6,418.0 L652.4,417.1 L654.1,416.9 L656.2,416.8 L658.1,417.8 L659.2,419.0 L659.6,420.8 L659.3,422.9 L658.4,425.1 L657.1,426.8 L656.2,428.7 L655.2,429.6 L654.2,430.4 L653.2,430.4 L652.0,430.3 L651.4,429.7 L650.7,428.7 L650.8,428.7 L651.0,428.3 L651.5,428.3 L652.1,428.2 L653.2,428.4 L654.2,428.4 L655.5,429.3 L656.4,429.9 L656.6,431.0 L656.8,432.4 L656.2,433.6 L655.7,434.9 L654.8,436.2 L654.1,436.9 L653.5,437.5 L653.2,437.8 L652.7,438.0 L652.4,437.9 L652.2,437.7 L652.3,437.8 L652.7,436.9 L653.5,435.9 L655.0,435.1 L657.6,434.6 L660.2,434.8 L662.1,435.3 L663.6,436.3 L664.1,438.0 L663.7,439.8 L662.8,441.9 L661.1,443.7 L659.7,445.1 L658.2,446.4 L657.0,447.1 L655.7,447.1 L654.7,446.8 L653.7,446.2 L653.5,445.4 L653.5,445.4 L653.8,444.8 L654.8,444.8 L656.3,444.3 L658.5,444.2 L660.5,444.4 L662.4,444.9 L663.5,446.1 L663.9,447.3 L663.4,448.7 L662.5,450.2 L661.3,451.9 L660.1,453.1 L658.9,454.3 L657.8,455.0 L656.7,455.4 L655.7,455.4 L655.3,455.1 L655.0,454.8" stroke="#161616" stroke-width="1.0" fill="none" stroke-linejoin="round" stroke-linecap="round"/>
<path d="M716.0,432.5 C720.5,438.0 714.3,453.8 707.4,454.5 C707.9,461.0 697.5,466.2 693.0,461.7 C686.8,466.8 668.2,458.8 667.4,450.7 C659.4,450.5 655.4,435.8 662.1,431.3 C657.5,425.1 665.5,410.5 673.0,411.5 C672.0,403.4 682.8,399.3 687.1,406.1 C691.8,399.0 706.5,403.9 706.3,412.5 C713.7,411.9 720.9,426.7 716.0,432.5Z" stroke="#161616" stroke-width="1.2" fill="#fff" />
<path d="M716.0,432.5 Q712.6,431.9 710.5,435.1" stroke="#161616" stroke-width="0.9" fill="none" />
<path d="M707.4,454.5 Q702.9,451.0 700.9,450.3" stroke="#161616" stroke-width="0.9" fill="none" />
<path d="M693.0,461.7 Q691.2,459.4 689.9,453.5" stroke="#161616" stroke-width="0.9" fill="none" />
<path d="M667.4,450.7 Q670.9,446.3 673.2,443.8" stroke="#161616" stroke-width="0.9" fill="none" />
<path d="M662.1,431.3 Q664.0,431.4 667.8,429.6" stroke="#161616" stroke-width="0.9" fill="none" />
<path d="M673.0,411.5 Q675.0,411.8 678.7,416.0" stroke="#161616" stroke-width="0.9" fill="none" />
<path d="M687.1,406.1 Q687.9,407.5 689.6,412.4" stroke="#161616" stroke-width="0.9" fill="none" />
<path d="M706.3,412.5 Q704.4,415.2 704.1,418.6" stroke="#161616" stroke-width="0.9" fill="none" />
<path d="M683.8,476.0 C689.5,479.6 682.6,491.1 674.8,490.8 C673.2,495.9 656.2,497.5 652.7,492.9 C646.6,495.8 637.4,490.1 640.8,485.6 C633.6,484.0 633.4,472.7 640.4,470.9 C638.6,466.6 649.4,460.4 655.0,462.5 C659.3,458.6 675.4,461.4 676.6,466.2 C683.1,465.4 688.5,472.8 683.8,476.0Z" stroke="#161616" stroke-width="1.2" fill="#fff" />
<path d="M683.8,476.0 Q679.6,478.1 677.6,477.7" stroke="#161616" stroke-width="0.9" fill="none" />
<path d="M674.8,490.8 Q673.5,487.9 670.0,488.4" stroke="#161616" stroke-width="0.9" fill="none" />
<path d="M652.7,492.9 Q650.9,490.7 652.9,489.1" stroke="#161616" stroke-width="0.9" fill="none" />
<path d="M640.8,485.6 Q641.9,483.1 644.4,482.8" stroke="#161616" stroke-width="0.9" fill="none" />
<path d="M640.4,470.9 Q644.4,470.8 647.4,472.0" stroke="#161616" stroke-width="0.9" fill="none" />
<path d="M655.0,462.5 Q655.4,466.1 658.2,466.2" stroke="#161616" stroke-width="0.9" fill="none" />
<path d="M676.6,466.2 Q675.0,467.1 672.9,470.6" stroke="#161616" stroke-width="0.9" fill="none" />
<path d="M584.9,461.8 L584.8,462.3 L584.8,463.1 L584.9,464.4 L585.1,465.9 L585.9,467.6 L586.9,468.8 L587.8,469.0 L589.1,469.1 L590.4,468.2 L591.7,467.4 L592.8,466.2 L594.0,465.4 L594.7,464.3 L595.1,463.5 L595.3,463.0 L595.6,462.2 L595.1,461.5 L595.1,461.2 L594.9,461.4 L594.2,461.4 L593.4,462.4 L593.1,463.6 L593.2,465.0 L593.7,466.6 L594.4,467.8 L595.6,468.5 L597.0,468.9 L598.4,468.4 L599.7,467.2 L600.8,465.9 L601.4,464.9 L602.4,463.5 L602.4,462.6 L602.4,461.8 L602.0,461.2 L601.2,461.1 L600.4,460.7 L600.5,460.8 L600.2,461.1 L600.5,461.4 L600.5,462.0 L601.3,462.9 L601.6,463.9 L602.5,464.6 L603.4,465.2 L604.8,465.2 L605.8,464.8 L607.0,464.3 L607.8,463.6 L609.0,462.5 L609.5,462.0 L610.1,461.2 L610.6,461.0 L610.6,460.5 L610.7,460.2 L610.7,460.3 L610.7,460.2 L609.2,460.7 L607.7,461.7 L607.2,463.7 L606.9,466.1 L607.4,468.3 L608.5,470.1 L610.1,471.0 L612.1,470.8 L614.1,469.8 L616.3,468.5 L618.3,466.7 L619.4,465.1 L620.4,463.6 L620.8,462.5 L620.5,461.6 L619.2,460.7 L618.0,460.1 L616.4,459.7 L616.4,459.7 L615.9,460.2 L615.4,460.9 L615.2,462.5 L615.4,464.6 L615.9,466.7 L616.8,468.5 L618.2,469.5 L619.3,469.4 L620.6,468.7 L622.2,467.6 L623.4,465.9 L624.3,464.4 L625.0,463.0 L625.0,461.9 L625.2,460.7 L624.8,460.0 L624.5,459.2 L623.6,459.0 L623.6,459.3 L622.9,459.4 L622.3,460.7 L622.1,462.2 L622.5,464.1 L623.0,465.8 L624.4,467.3 L625.5,467.9 L627.3,468.1 L629.1,467.1 L630.8,466.1 L632.6,464.6 L633.7,463.1 L634.6,462.1 L635.2,460.7 L635.3,460.2 L634.8,459.4 L634.1,458.6 L633.4,458.5 L633.5,458.6 L633.2,458.7 L632.8,459.2 L632.9,460.6 L633.0,462.0 L633.7,463.5 L634.1,465.0 L635.2,465.7 L636.2,466.1 L637.3,465.7 L638.3,464.5 L639.4,463.5 L640.1,462.1 L640.6,460.9 L640.9,459.7 L640.8,459.2 L640.6,458.5 L640.3,458.2 L639.8,457.9" stroke="#161616" stroke-width="1.0" fill="none" stroke-linejoin="round" stroke-linecap="round"/>
<path d="M674.9,426.8 L675.0,427.2 L674.9,427.2 L675.0,427.8 L675.0,428.1 L675.5,428.9 L676.1,429.3 L676.7,429.4 L677.5,429.6 L678.5,429.7 L679.3,429.8 L680.1,429.5 L681.1,429.6 L681.6,429.3 L682.4,429.2 L682.7,428.9 L682.7,428.7 L682.7,428.5 L682.5,428.7 L682.6,428.7 L682.1,428.6 L681.4,429.4 L680.6,430.3 L680.4,431.7 L680.6,433.3 L680.9,434.8 L681.9,435.7 L683.1,435.9 L684.7,435.6 L686.2,435.1 L687.7,434.3 L689.1,433.6 L689.8,432.9 L690.4,432.0 L690.7,431.4 L690.2,430.8 L689.9,430.0 L689.5,429.9 L689.4,429.9 L688.7,430.2 L688.3,430.6 L688.1,432.2 L687.9,434.0 L687.8,436.0 L688.6,437.8 L689.7,438.8 L691.2,439.3 L693.1,439.3 L694.9,438.3 L696.5,437.5 L698.2,436.5 L699.5,435.6 L700.1,434.6 L700.5,433.6 L700.7,432.8 L700.4,432.3 L700.0,431.8" stroke="#161616" stroke-width="1.0" fill="none" stroke-linejoin="round" stroke-linecap="round"/>
<path d="M657.1,472.1 L656.8,471.5 L656.3,471.6 L655.2,471.9 L654.4,472.4 L653.3,473.3 L652.6,474.2 L652.4,475.4 L652.8,476.8 L653.4,478.1 L654.8,478.9 L655.9,479.8 L657.3,480.2 L658.3,480.6 L659.2,480.6 L659.7,480.6 L660.1,480.2 L660.3,480.0 L660.4,479.3 L660.2,479.6 L660.0,479.2 L659.3,479.5 L658.1,479.8 L656.5,480.9 L655.4,481.7 L654.7,483.1 L654.7,484.0 L655.1,485.5 L656.1,486.2 L657.5,487.3 L659.0,488.2 L660.1,488.7 L661.1,489.0 L661.9,489.3 L662.9,489.2 L663.7,488.9 L664.1,488.5 L663.8,487.9" stroke="#161616" stroke-width="1.0" fill="none" stroke-linejoin="round" stroke-linecap="round"/>
<text x="410" y="47" class="n" font-size="20.5" letter-spacing="3.2" >64’ - 0”</text>
<text x="21" y="316" class="n" font-size="20.5" letter-spacing="3.2" transform="rotate(-90 21 316)">52’ - 4”</text>
<text transform="translate(110.6 117.0) scale(1.08 1)" class="t" font-size="19.28" letter-spacing="1.617">Mstr</text>
<text transform="translate(104.0 218.4) scale(1.08 1)" class="t" font-size="19.13" letter-spacing="1.849">MstrBed</text>
<text transform="translate(123.8 239.1) scale(0.9 1)" class="d" font-size="20.14" letter-spacing="3.917">15x16</text>
<text transform="translate(216.4 148.6) scale(1.08 1)" class="t" font-size="19.13" letter-spacing="1.833">Brkfst</text>
<text transform="translate(222.8 169.1) scale(0.9 1)" class="d" font-size="20.87" letter-spacing="3.222">10x12</text>
<text transform="translate(220.6 182.7) scale(1.1 1)" class="s" font-size="10.0" letter-spacing="1.795">8’Ceiling</text>
<text transform="translate(246.2 235.8) scale(1.08 1)" class="t" font-size="19.57" letter-spacing="1.231">Kit</text>
<text transform="translate(228.8 256.0) scale(0.9 1)" class="d" font-size="18.84" letter-spacing="3.917">11x12</text>
<text transform="translate(316.2 98.3) scale(1.08 1)" class="t" font-size="20.14" letter-spacing="1.347">Patio</text>
<text transform="translate(327.0 244.2) scale(1.08 1)" class="t" font-size="19.86" letter-spacing="0.074">FmlDin</text>
<text transform="translate(339.0 264.1) scale(0.9 1)" class="d" font-size="20.0" letter-spacing="3.917">11x11</text>
<text transform="translate(332.4 279.6) scale(1.1 1)" class="s" font-size="9.13" letter-spacing="2.162">10’Ceiling</text>
<text transform="translate(432.2 181.3) scale(1.1 1)" class="s" font-size="8.26" letter-spacing="2.534">8’Ceiling</text>
<text transform="translate(432.2 203.8) scale(1.08 1)" class="t" font-size="18.55" letter-spacing="1.463">Study</text>
<text transform="translate(455.2 223.2) scale(1.08 1)" class="t" font-size="20.19" letter-spacing="-1.778">or</text>
<text transform="translate(434.2 243.7) scale(1.08 1)" class="t" font-size="20.14" letter-spacing="0.537">Guest</text>
<text transform="translate(434.8 262.1) scale(1.08 1)" class="t" font-size="18.55" letter-spacing="1.463">Bed</text>
<text transform="translate(433.2 281.5) scale(0.9 1)" class="d" font-size="20.0" letter-spacing="3.639">11x14</text>
<text transform="translate(537.0 186.1) scale(1.08 1)" class="t" font-size="19.13" letter-spacing="2.389">Bed</text>
<text transform="translate(599.0 186.1) scale(1.08 1)" class="t" font-size="19.13" letter-spacing="4.704">3</text>
<text transform="translate(548.2 204.7) scale(0.9 1)" class="d" font-size="20.87" letter-spacing="3.083">10x14</text>
<text transform="translate(557.6 293.6) scale(1.08 1)" class="t" font-size="19.57" letter-spacing="-9.185">B</text>
<text transform="translate(592.0 293.6) scale(1.08 1)" class="t" font-size="19.57" letter-spacing="1.0">2</text>
<text transform="translate(333.0 317.0) scale(1.08 1)" class="t" font-size="19.57" letter-spacing="1.463">Gallery</text>
<text transform="translate(317.8 329.6) scale(1.1 1)" class="s" font-size="8.84" letter-spacing="2.263">10’Ceiling</text>
<text transform="translate(437.2 327.1) scale(1.1 1)" class="s" font-size="9.57" letter-spacing="2.01">10’Ceiling</text>
<text transform="translate(258.4 368.6) scale(1.08 1)" class="t" font-size="19.71" letter-spacing="1.772">Util</text>
<text transform="translate(461.4 360.3) scale(1.08 1)" class="t" font-size="19.13" letter-spacing="1.0">Ent</text>
<text transform="translate(146.0 396.0) scale(1.08 1)" class="t" font-size="18.55" letter-spacing="1.926">Gar</text>
<text transform="translate(132.8 417.5) scale(0.9 1)" class="d" font-size="20.87" letter-spacing="3.361">21x23</text>
<text transform="translate(339.2 400.3) scale(1.08 1)" class="t" font-size="20.29" letter-spacing="0.421">LivRm</text>
<text transform="translate(339.2 420.5) scale(0.9 1)" class="d" font-size="21.74" letter-spacing="2.667">16x20</text>
<text transform="translate(312.2 436.0) scale(1.1 1)" class="s" font-size="11.88" letter-spacing="0.943">Cathedral Ceiling</text>
<text transform="translate(539.6 394.8) scale(1.08 1)" class="t" font-size="18.99" letter-spacing="1.694">Bed</text>
<text transform="translate(601.0 394.8) scale(1.08 1)" class="t" font-size="18.99" letter-spacing="3.315">2</text>
<text transform="translate(547.6 414.1) scale(0.9 1)" class="d" font-size="20.0" letter-spacing="3.5">12x14</text>
<text transform="translate(286.4 464.1) scale(1.08 1)" class="t" font-size="19.71" letter-spacing="0.769">Bar</text>
<text transform="translate(457.2 452.8) scale(1.08 1)" class="t" font-size="19.13" letter-spacing="1.0">Por</text>
<path d="M592.5,176.0 L586.1,185.5" stroke="#161616" stroke-width="3.3" fill="none" />
<path d="M582.0,182.2 L595.5,179.8" stroke="#161616" stroke-width="3.3" fill="none" />
<path d="M594.1,382.5 L587.7,393.5" stroke="#161616" stroke-width="3.3" fill="none" />
<path d="M583.5,389.7 L597.1,386.9" stroke="#161616" stroke-width="3.3" fill="none" />
<path d="M585.0,281.1 L578.6,292.0" stroke="#161616" stroke-width="3.3" fill="none" />
<path d="M574.5,288.2 L588.0,285.5" stroke="#161616" stroke-width="3.3" fill="none" />
</svg>
</body></html>
